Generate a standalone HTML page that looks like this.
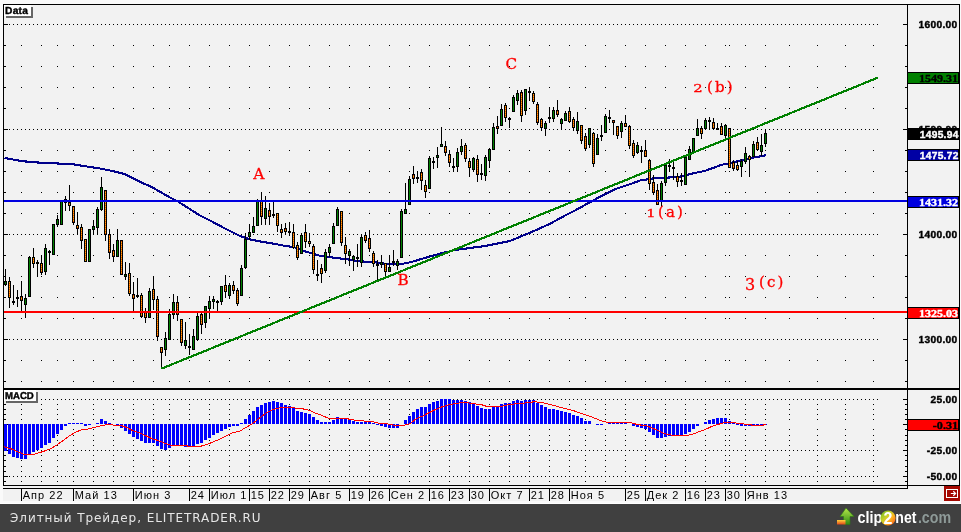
<!DOCTYPE html>
<html lang="ru"><head><meta charset="utf-8"><title>Chart</title>
<style>html,body{margin:0;padding:0;background:#fafafa;overflow:hidden}body{width:961px;height:532px;position:relative}</style></head>
<body>
<svg width="961" height="532" viewBox="0 0 961 532" style="position:absolute;left:0;top:0">
<rect x="0" y="0" width="961" height="532" fill="#fafafa"/>
<rect x="3" y="4" width="957" height="497" fill="#f2f2f2"/>
<g shape-rendering="crispEdges">
<path d="M5 24h1v1h-1zM9 24h1v1h-1zM13 24h1v1h-1zM17 24h1v1h-1zM21 24h1v1h-1zM25 24h1v1h-1zM29 24h1v1h-1zM33 24h1v1h-1zM37 24h1v1h-1zM41 24h1v1h-1zM45 24h1v1h-1zM49 24h1v1h-1zM53 24h1v1h-1zM57 24h1v1h-1zM61 24h1v1h-1zM65 24h1v1h-1zM69 24h1v1h-1zM73 24h1v1h-1zM77 24h1v1h-1zM81 24h1v1h-1zM85 24h1v1h-1zM89 24h1v1h-1zM93 24h1v1h-1zM97 24h1v1h-1zM101 24h1v1h-1zM105 24h1v1h-1zM109 24h1v1h-1zM113 24h1v1h-1zM117 24h1v1h-1zM121 24h1v1h-1zM125 24h1v1h-1zM129 24h1v1h-1zM133 24h1v1h-1zM137 24h1v1h-1zM141 24h1v1h-1zM145 24h1v1h-1zM149 24h1v1h-1zM153 24h1v1h-1zM157 24h1v1h-1zM161 24h1v1h-1zM165 24h1v1h-1zM169 24h1v1h-1zM173 24h1v1h-1zM177 24h1v1h-1zM181 24h1v1h-1zM185 24h1v1h-1zM189 24h1v1h-1zM193 24h1v1h-1zM197 24h1v1h-1zM201 24h1v1h-1zM205 24h1v1h-1zM209 24h1v1h-1zM213 24h1v1h-1zM217 24h1v1h-1zM221 24h1v1h-1zM225 24h1v1h-1zM229 24h1v1h-1zM233 24h1v1h-1zM237 24h1v1h-1zM241 24h1v1h-1zM245 24h1v1h-1zM249 24h1v1h-1zM253 24h1v1h-1zM257 24h1v1h-1zM261 24h1v1h-1zM265 24h1v1h-1zM269 24h1v1h-1zM273 24h1v1h-1zM277 24h1v1h-1zM281 24h1v1h-1zM285 24h1v1h-1zM289 24h1v1h-1zM293 24h1v1h-1zM297 24h1v1h-1zM301 24h1v1h-1zM305 24h1v1h-1zM309 24h1v1h-1zM313 24h1v1h-1zM317 24h1v1h-1zM321 24h1v1h-1zM325 24h1v1h-1zM329 24h1v1h-1zM333 24h1v1h-1zM337 24h1v1h-1zM341 24h1v1h-1zM345 24h1v1h-1zM349 24h1v1h-1zM353 24h1v1h-1zM357 24h1v1h-1zM361 24h1v1h-1zM365 24h1v1h-1zM369 24h1v1h-1zM373 24h1v1h-1zM377 24h1v1h-1zM381 24h1v1h-1zM385 24h1v1h-1zM389 24h1v1h-1zM393 24h1v1h-1zM397 24h1v1h-1zM401 24h1v1h-1zM405 24h1v1h-1zM409 24h1v1h-1zM413 24h1v1h-1zM417 24h1v1h-1zM421 24h1v1h-1zM425 24h1v1h-1zM429 24h1v1h-1zM433 24h1v1h-1zM437 24h1v1h-1zM441 24h1v1h-1zM445 24h1v1h-1zM449 24h1v1h-1zM453 24h1v1h-1zM457 24h1v1h-1zM461 24h1v1h-1zM465 24h1v1h-1zM469 24h1v1h-1zM473 24h1v1h-1zM477 24h1v1h-1zM481 24h1v1h-1zM485 24h1v1h-1zM489 24h1v1h-1zM493 24h1v1h-1zM497 24h1v1h-1zM501 24h1v1h-1zM505 24h1v1h-1zM509 24h1v1h-1zM513 24h1v1h-1zM517 24h1v1h-1zM521 24h1v1h-1zM525 24h1v1h-1zM529 24h1v1h-1zM533 24h1v1h-1zM537 24h1v1h-1zM541 24h1v1h-1zM545 24h1v1h-1zM549 24h1v1h-1zM553 24h1v1h-1zM557 24h1v1h-1zM561 24h1v1h-1zM565 24h1v1h-1zM569 24h1v1h-1zM573 24h1v1h-1zM577 24h1v1h-1zM581 24h1v1h-1zM585 24h1v1h-1zM589 24h1v1h-1zM593 24h1v1h-1zM597 24h1v1h-1zM601 24h1v1h-1zM605 24h1v1h-1zM609 24h1v1h-1zM613 24h1v1h-1zM617 24h1v1h-1zM621 24h1v1h-1zM625 24h1v1h-1zM629 24h1v1h-1zM633 24h1v1h-1zM637 24h1v1h-1zM641 24h1v1h-1zM645 24h1v1h-1zM649 24h1v1h-1zM653 24h1v1h-1zM657 24h1v1h-1zM661 24h1v1h-1zM665 24h1v1h-1zM669 24h1v1h-1zM673 24h1v1h-1zM677 24h1v1h-1zM681 24h1v1h-1zM685 24h1v1h-1zM689 24h1v1h-1zM693 24h1v1h-1zM697 24h1v1h-1zM701 24h1v1h-1zM705 24h1v1h-1zM709 24h1v1h-1zM713 24h1v1h-1zM717 24h1v1h-1zM721 24h1v1h-1zM725 24h1v1h-1zM729 24h1v1h-1zM733 24h1v1h-1zM737 24h1v1h-1zM741 24h1v1h-1zM745 24h1v1h-1zM749 24h1v1h-1zM753 24h1v1h-1zM757 24h1v1h-1zM761 24h1v1h-1zM765 24h1v1h-1zM769 24h1v1h-1zM773 24h1v1h-1zM777 24h1v1h-1zM781 24h1v1h-1zM785 24h1v1h-1zM789 24h1v1h-1zM793 24h1v1h-1zM797 24h1v1h-1zM801 24h1v1h-1zM805 24h1v1h-1zM809 24h1v1h-1zM813 24h1v1h-1zM817 24h1v1h-1zM821 24h1v1h-1zM825 24h1v1h-1zM829 24h1v1h-1zM833 24h1v1h-1zM837 24h1v1h-1zM841 24h1v1h-1zM845 24h1v1h-1zM849 24h1v1h-1zM853 24h1v1h-1zM857 24h1v1h-1zM861 24h1v1h-1zM865 24h1v1h-1zM869 24h1v1h-1zM873 24h1v1h-1zM877 24h1v1h-1zM21 45h1v1h-1zM41 45h1v1h-1zM57 45h1v1h-1zM73 45h1v1h-1zM93 45h1v1h-1zM113 45h1v1h-1zM133 45h1v1h-1zM153 45h1v1h-1zM169 45h1v1h-1zM189 45h1v1h-1zM209 45h1v1h-1zM229 45h1v1h-1zM249 45h1v1h-1zM269 45h1v1h-1zM289 45h1v1h-1zM309 45h1v1h-1zM329 45h1v1h-1zM349 45h1v1h-1zM369 45h1v1h-1zM389 45h1v1h-1zM409 45h1v1h-1zM429 45h1v1h-1zM449 45h1v1h-1zM469 45h1v1h-1zM489 45h1v1h-1zM509 45h1v1h-1zM529 45h1v1h-1zM549 45h1v1h-1zM569 45h1v1h-1zM585 45h1v1h-1zM605 45h1v1h-1zM625 45h1v1h-1zM645 45h1v1h-1zM665 45h1v1h-1zM685 45h1v1h-1zM705 45h1v1h-1zM725 45h1v1h-1zM729 45h1v1h-1zM745 45h1v1h-1zM765 45h1v1h-1zM789 45h1v1h-1zM817 45h1v1h-1zM845 45h1v1h-1zM873 45h1v1h-1zM21 66h1v1h-1zM41 66h1v1h-1zM57 66h1v1h-1zM73 66h1v1h-1zM93 66h1v1h-1zM113 66h1v1h-1zM133 66h1v1h-1zM153 66h1v1h-1zM169 66h1v1h-1zM189 66h1v1h-1zM209 66h1v1h-1zM229 66h1v1h-1zM249 66h1v1h-1zM269 66h1v1h-1zM289 66h1v1h-1zM309 66h1v1h-1zM329 66h1v1h-1zM349 66h1v1h-1zM369 66h1v1h-1zM389 66h1v1h-1zM409 66h1v1h-1zM429 66h1v1h-1zM449 66h1v1h-1zM469 66h1v1h-1zM489 66h1v1h-1zM509 66h1v1h-1zM529 66h1v1h-1zM549 66h1v1h-1zM569 66h1v1h-1zM585 66h1v1h-1zM605 66h1v1h-1zM625 66h1v1h-1zM645 66h1v1h-1zM665 66h1v1h-1zM685 66h1v1h-1zM705 66h1v1h-1zM725 66h1v1h-1zM729 66h1v1h-1zM745 66h1v1h-1zM765 66h1v1h-1zM789 66h1v1h-1zM817 66h1v1h-1zM845 66h1v1h-1zM873 66h1v1h-1zM21 87h1v1h-1zM41 87h1v1h-1zM57 87h1v1h-1zM73 87h1v1h-1zM93 87h1v1h-1zM113 87h1v1h-1zM133 87h1v1h-1zM153 87h1v1h-1zM169 87h1v1h-1zM189 87h1v1h-1zM209 87h1v1h-1zM229 87h1v1h-1zM249 87h1v1h-1zM269 87h1v1h-1zM289 87h1v1h-1zM309 87h1v1h-1zM329 87h1v1h-1zM349 87h1v1h-1zM369 87h1v1h-1zM389 87h1v1h-1zM409 87h1v1h-1zM429 87h1v1h-1zM449 87h1v1h-1zM469 87h1v1h-1zM489 87h1v1h-1zM509 87h1v1h-1zM529 87h1v1h-1zM549 87h1v1h-1zM569 87h1v1h-1zM585 87h1v1h-1zM605 87h1v1h-1zM625 87h1v1h-1zM645 87h1v1h-1zM665 87h1v1h-1zM685 87h1v1h-1zM705 87h1v1h-1zM725 87h1v1h-1zM729 87h1v1h-1zM745 87h1v1h-1zM765 87h1v1h-1zM789 87h1v1h-1zM817 87h1v1h-1zM845 87h1v1h-1zM873 87h1v1h-1zM21 108h1v1h-1zM41 108h1v1h-1zM57 108h1v1h-1zM73 108h1v1h-1zM93 108h1v1h-1zM113 108h1v1h-1zM133 108h1v1h-1zM153 108h1v1h-1zM169 108h1v1h-1zM189 108h1v1h-1zM209 108h1v1h-1zM229 108h1v1h-1zM249 108h1v1h-1zM269 108h1v1h-1zM289 108h1v1h-1zM309 108h1v1h-1zM329 108h1v1h-1zM349 108h1v1h-1zM369 108h1v1h-1zM389 108h1v1h-1zM409 108h1v1h-1zM429 108h1v1h-1zM449 108h1v1h-1zM469 108h1v1h-1zM489 108h1v1h-1zM509 108h1v1h-1zM529 108h1v1h-1zM549 108h1v1h-1zM569 108h1v1h-1zM585 108h1v1h-1zM605 108h1v1h-1zM625 108h1v1h-1zM645 108h1v1h-1zM665 108h1v1h-1zM685 108h1v1h-1zM705 108h1v1h-1zM725 108h1v1h-1zM729 108h1v1h-1zM745 108h1v1h-1zM765 108h1v1h-1zM789 108h1v1h-1zM817 108h1v1h-1zM845 108h1v1h-1zM873 108h1v1h-1zM5 129h1v1h-1zM9 129h1v1h-1zM13 129h1v1h-1zM17 129h1v1h-1zM21 129h1v1h-1zM25 129h1v1h-1zM29 129h1v1h-1zM33 129h1v1h-1zM37 129h1v1h-1zM41 129h1v1h-1zM45 129h1v1h-1zM49 129h1v1h-1zM53 129h1v1h-1zM57 129h1v1h-1zM61 129h1v1h-1zM65 129h1v1h-1zM69 129h1v1h-1zM73 129h1v1h-1zM77 129h1v1h-1zM81 129h1v1h-1zM85 129h1v1h-1zM89 129h1v1h-1zM93 129h1v1h-1zM97 129h1v1h-1zM101 129h1v1h-1zM105 129h1v1h-1zM109 129h1v1h-1zM113 129h1v1h-1zM117 129h1v1h-1zM121 129h1v1h-1zM125 129h1v1h-1zM129 129h1v1h-1zM133 129h1v1h-1zM137 129h1v1h-1zM141 129h1v1h-1zM145 129h1v1h-1zM149 129h1v1h-1zM153 129h1v1h-1zM157 129h1v1h-1zM161 129h1v1h-1zM165 129h1v1h-1zM169 129h1v1h-1zM173 129h1v1h-1zM177 129h1v1h-1zM181 129h1v1h-1zM185 129h1v1h-1zM189 129h1v1h-1zM193 129h1v1h-1zM197 129h1v1h-1zM201 129h1v1h-1zM205 129h1v1h-1zM209 129h1v1h-1zM213 129h1v1h-1zM217 129h1v1h-1zM221 129h1v1h-1zM225 129h1v1h-1zM229 129h1v1h-1zM233 129h1v1h-1zM237 129h1v1h-1zM241 129h1v1h-1zM245 129h1v1h-1zM249 129h1v1h-1zM253 129h1v1h-1zM257 129h1v1h-1zM261 129h1v1h-1zM265 129h1v1h-1zM269 129h1v1h-1zM273 129h1v1h-1zM277 129h1v1h-1zM281 129h1v1h-1zM285 129h1v1h-1zM289 129h1v1h-1zM293 129h1v1h-1zM297 129h1v1h-1zM301 129h1v1h-1zM305 129h1v1h-1zM309 129h1v1h-1zM313 129h1v1h-1zM317 129h1v1h-1zM321 129h1v1h-1zM325 129h1v1h-1zM329 129h1v1h-1zM333 129h1v1h-1zM337 129h1v1h-1zM341 129h1v1h-1zM345 129h1v1h-1zM349 129h1v1h-1zM353 129h1v1h-1zM357 129h1v1h-1zM361 129h1v1h-1zM365 129h1v1h-1zM369 129h1v1h-1zM373 129h1v1h-1zM377 129h1v1h-1zM381 129h1v1h-1zM385 129h1v1h-1zM389 129h1v1h-1zM393 129h1v1h-1zM397 129h1v1h-1zM401 129h1v1h-1zM405 129h1v1h-1zM409 129h1v1h-1zM413 129h1v1h-1zM417 129h1v1h-1zM421 129h1v1h-1zM425 129h1v1h-1zM429 129h1v1h-1zM433 129h1v1h-1zM437 129h1v1h-1zM441 129h1v1h-1zM445 129h1v1h-1zM449 129h1v1h-1zM453 129h1v1h-1zM457 129h1v1h-1zM461 129h1v1h-1zM465 129h1v1h-1zM469 129h1v1h-1zM473 129h1v1h-1zM477 129h1v1h-1zM481 129h1v1h-1zM485 129h1v1h-1zM489 129h1v1h-1zM493 129h1v1h-1zM497 129h1v1h-1zM501 129h1v1h-1zM505 129h1v1h-1zM509 129h1v1h-1zM513 129h1v1h-1zM517 129h1v1h-1zM521 129h1v1h-1zM525 129h1v1h-1zM529 129h1v1h-1zM533 129h1v1h-1zM537 129h1v1h-1zM541 129h1v1h-1zM545 129h1v1h-1zM549 129h1v1h-1zM553 129h1v1h-1zM557 129h1v1h-1zM561 129h1v1h-1zM565 129h1v1h-1zM569 129h1v1h-1zM573 129h1v1h-1zM577 129h1v1h-1zM581 129h1v1h-1zM585 129h1v1h-1zM589 129h1v1h-1zM593 129h1v1h-1zM597 129h1v1h-1zM601 129h1v1h-1zM605 129h1v1h-1zM609 129h1v1h-1zM613 129h1v1h-1zM617 129h1v1h-1zM621 129h1v1h-1zM625 129h1v1h-1zM629 129h1v1h-1zM633 129h1v1h-1zM637 129h1v1h-1zM641 129h1v1h-1zM645 129h1v1h-1zM649 129h1v1h-1zM653 129h1v1h-1zM657 129h1v1h-1zM661 129h1v1h-1zM665 129h1v1h-1zM669 129h1v1h-1zM673 129h1v1h-1zM677 129h1v1h-1zM681 129h1v1h-1zM685 129h1v1h-1zM689 129h1v1h-1zM693 129h1v1h-1zM697 129h1v1h-1zM701 129h1v1h-1zM705 129h1v1h-1zM709 129h1v1h-1zM713 129h1v1h-1zM717 129h1v1h-1zM721 129h1v1h-1zM725 129h1v1h-1zM729 129h1v1h-1zM733 129h1v1h-1zM737 129h1v1h-1zM741 129h1v1h-1zM745 129h1v1h-1zM749 129h1v1h-1zM753 129h1v1h-1zM757 129h1v1h-1zM761 129h1v1h-1zM765 129h1v1h-1zM769 129h1v1h-1zM773 129h1v1h-1zM777 129h1v1h-1zM781 129h1v1h-1zM785 129h1v1h-1zM789 129h1v1h-1zM793 129h1v1h-1zM797 129h1v1h-1zM801 129h1v1h-1zM805 129h1v1h-1zM809 129h1v1h-1zM813 129h1v1h-1zM817 129h1v1h-1zM821 129h1v1h-1zM825 129h1v1h-1zM829 129h1v1h-1zM833 129h1v1h-1zM837 129h1v1h-1zM841 129h1v1h-1zM845 129h1v1h-1zM849 129h1v1h-1zM853 129h1v1h-1zM857 129h1v1h-1zM861 129h1v1h-1zM865 129h1v1h-1zM869 129h1v1h-1zM873 129h1v1h-1zM877 129h1v1h-1zM21 150h1v1h-1zM41 150h1v1h-1zM57 150h1v1h-1zM73 150h1v1h-1zM93 150h1v1h-1zM113 150h1v1h-1zM133 150h1v1h-1zM153 150h1v1h-1zM169 150h1v1h-1zM189 150h1v1h-1zM209 150h1v1h-1zM229 150h1v1h-1zM249 150h1v1h-1zM269 150h1v1h-1zM289 150h1v1h-1zM309 150h1v1h-1zM329 150h1v1h-1zM349 150h1v1h-1zM369 150h1v1h-1zM389 150h1v1h-1zM409 150h1v1h-1zM429 150h1v1h-1zM449 150h1v1h-1zM469 150h1v1h-1zM489 150h1v1h-1zM509 150h1v1h-1zM529 150h1v1h-1zM549 150h1v1h-1zM569 150h1v1h-1zM585 150h1v1h-1zM605 150h1v1h-1zM625 150h1v1h-1zM645 150h1v1h-1zM665 150h1v1h-1zM685 150h1v1h-1zM705 150h1v1h-1zM725 150h1v1h-1zM729 150h1v1h-1zM745 150h1v1h-1zM765 150h1v1h-1zM789 150h1v1h-1zM817 150h1v1h-1zM845 150h1v1h-1zM873 150h1v1h-1zM21 171h1v1h-1zM41 171h1v1h-1zM57 171h1v1h-1zM73 171h1v1h-1zM93 171h1v1h-1zM113 171h1v1h-1zM133 171h1v1h-1zM153 171h1v1h-1zM169 171h1v1h-1zM189 171h1v1h-1zM209 171h1v1h-1zM229 171h1v1h-1zM249 171h1v1h-1zM269 171h1v1h-1zM289 171h1v1h-1zM309 171h1v1h-1zM329 171h1v1h-1zM349 171h1v1h-1zM369 171h1v1h-1zM389 171h1v1h-1zM409 171h1v1h-1zM429 171h1v1h-1zM449 171h1v1h-1zM469 171h1v1h-1zM489 171h1v1h-1zM509 171h1v1h-1zM529 171h1v1h-1zM549 171h1v1h-1zM569 171h1v1h-1zM585 171h1v1h-1zM605 171h1v1h-1zM625 171h1v1h-1zM645 171h1v1h-1zM665 171h1v1h-1zM685 171h1v1h-1zM705 171h1v1h-1zM725 171h1v1h-1zM729 171h1v1h-1zM745 171h1v1h-1zM765 171h1v1h-1zM789 171h1v1h-1zM817 171h1v1h-1zM845 171h1v1h-1zM873 171h1v1h-1zM21 192h1v1h-1zM41 192h1v1h-1zM57 192h1v1h-1zM73 192h1v1h-1zM93 192h1v1h-1zM113 192h1v1h-1zM133 192h1v1h-1zM153 192h1v1h-1zM169 192h1v1h-1zM189 192h1v1h-1zM209 192h1v1h-1zM229 192h1v1h-1zM249 192h1v1h-1zM269 192h1v1h-1zM289 192h1v1h-1zM309 192h1v1h-1zM329 192h1v1h-1zM349 192h1v1h-1zM369 192h1v1h-1zM389 192h1v1h-1zM409 192h1v1h-1zM429 192h1v1h-1zM449 192h1v1h-1zM469 192h1v1h-1zM489 192h1v1h-1zM509 192h1v1h-1zM529 192h1v1h-1zM549 192h1v1h-1zM569 192h1v1h-1zM585 192h1v1h-1zM605 192h1v1h-1zM625 192h1v1h-1zM645 192h1v1h-1zM665 192h1v1h-1zM685 192h1v1h-1zM705 192h1v1h-1zM725 192h1v1h-1zM729 192h1v1h-1zM745 192h1v1h-1zM765 192h1v1h-1zM789 192h1v1h-1zM817 192h1v1h-1zM845 192h1v1h-1zM873 192h1v1h-1zM21 213h1v1h-1zM41 213h1v1h-1zM57 213h1v1h-1zM73 213h1v1h-1zM93 213h1v1h-1zM113 213h1v1h-1zM133 213h1v1h-1zM153 213h1v1h-1zM169 213h1v1h-1zM189 213h1v1h-1zM209 213h1v1h-1zM229 213h1v1h-1zM249 213h1v1h-1zM269 213h1v1h-1zM289 213h1v1h-1zM309 213h1v1h-1zM329 213h1v1h-1zM349 213h1v1h-1zM369 213h1v1h-1zM389 213h1v1h-1zM409 213h1v1h-1zM429 213h1v1h-1zM449 213h1v1h-1zM469 213h1v1h-1zM489 213h1v1h-1zM509 213h1v1h-1zM529 213h1v1h-1zM549 213h1v1h-1zM569 213h1v1h-1zM585 213h1v1h-1zM605 213h1v1h-1zM625 213h1v1h-1zM645 213h1v1h-1zM665 213h1v1h-1zM685 213h1v1h-1zM705 213h1v1h-1zM725 213h1v1h-1zM729 213h1v1h-1zM745 213h1v1h-1zM765 213h1v1h-1zM789 213h1v1h-1zM817 213h1v1h-1zM845 213h1v1h-1zM873 213h1v1h-1zM5 234h1v1h-1zM9 234h1v1h-1zM13 234h1v1h-1zM17 234h1v1h-1zM21 234h1v1h-1zM25 234h1v1h-1zM29 234h1v1h-1zM33 234h1v1h-1zM37 234h1v1h-1zM41 234h1v1h-1zM45 234h1v1h-1zM49 234h1v1h-1zM53 234h1v1h-1zM57 234h1v1h-1zM61 234h1v1h-1zM65 234h1v1h-1zM69 234h1v1h-1zM73 234h1v1h-1zM77 234h1v1h-1zM81 234h1v1h-1zM85 234h1v1h-1zM89 234h1v1h-1zM93 234h1v1h-1zM97 234h1v1h-1zM101 234h1v1h-1zM105 234h1v1h-1zM109 234h1v1h-1zM113 234h1v1h-1zM117 234h1v1h-1zM121 234h1v1h-1zM125 234h1v1h-1zM129 234h1v1h-1zM133 234h1v1h-1zM137 234h1v1h-1zM141 234h1v1h-1zM145 234h1v1h-1zM149 234h1v1h-1zM153 234h1v1h-1zM157 234h1v1h-1zM161 234h1v1h-1zM165 234h1v1h-1zM169 234h1v1h-1zM173 234h1v1h-1zM177 234h1v1h-1zM181 234h1v1h-1zM185 234h1v1h-1zM189 234h1v1h-1zM193 234h1v1h-1zM197 234h1v1h-1zM201 234h1v1h-1zM205 234h1v1h-1zM209 234h1v1h-1zM213 234h1v1h-1zM217 234h1v1h-1zM221 234h1v1h-1zM225 234h1v1h-1zM229 234h1v1h-1zM233 234h1v1h-1zM237 234h1v1h-1zM241 234h1v1h-1zM245 234h1v1h-1zM249 234h1v1h-1zM253 234h1v1h-1zM257 234h1v1h-1zM261 234h1v1h-1zM265 234h1v1h-1zM269 234h1v1h-1zM273 234h1v1h-1zM277 234h1v1h-1zM281 234h1v1h-1zM285 234h1v1h-1zM289 234h1v1h-1zM293 234h1v1h-1zM297 234h1v1h-1zM301 234h1v1h-1zM305 234h1v1h-1zM309 234h1v1h-1zM313 234h1v1h-1zM317 234h1v1h-1zM321 234h1v1h-1zM325 234h1v1h-1zM329 234h1v1h-1zM333 234h1v1h-1zM337 234h1v1h-1zM341 234h1v1h-1zM345 234h1v1h-1zM349 234h1v1h-1zM353 234h1v1h-1zM357 234h1v1h-1zM361 234h1v1h-1zM365 234h1v1h-1zM369 234h1v1h-1zM373 234h1v1h-1zM377 234h1v1h-1zM381 234h1v1h-1zM385 234h1v1h-1zM389 234h1v1h-1zM393 234h1v1h-1zM397 234h1v1h-1zM401 234h1v1h-1zM405 234h1v1h-1zM409 234h1v1h-1zM413 234h1v1h-1zM417 234h1v1h-1zM421 234h1v1h-1zM425 234h1v1h-1zM429 234h1v1h-1zM433 234h1v1h-1zM437 234h1v1h-1zM441 234h1v1h-1zM445 234h1v1h-1zM449 234h1v1h-1zM453 234h1v1h-1zM457 234h1v1h-1zM461 234h1v1h-1zM465 234h1v1h-1zM469 234h1v1h-1zM473 234h1v1h-1zM477 234h1v1h-1zM481 234h1v1h-1zM485 234h1v1h-1zM489 234h1v1h-1zM493 234h1v1h-1zM497 234h1v1h-1zM501 234h1v1h-1zM505 234h1v1h-1zM509 234h1v1h-1zM513 234h1v1h-1zM517 234h1v1h-1zM521 234h1v1h-1zM525 234h1v1h-1zM529 234h1v1h-1zM533 234h1v1h-1zM537 234h1v1h-1zM541 234h1v1h-1zM545 234h1v1h-1zM549 234h1v1h-1zM553 234h1v1h-1zM557 234h1v1h-1zM561 234h1v1h-1zM565 234h1v1h-1zM569 234h1v1h-1zM573 234h1v1h-1zM577 234h1v1h-1zM581 234h1v1h-1zM585 234h1v1h-1zM589 234h1v1h-1zM593 234h1v1h-1zM597 234h1v1h-1zM601 234h1v1h-1zM605 234h1v1h-1zM609 234h1v1h-1zM613 234h1v1h-1zM617 234h1v1h-1zM621 234h1v1h-1zM625 234h1v1h-1zM629 234h1v1h-1zM633 234h1v1h-1zM637 234h1v1h-1zM641 234h1v1h-1zM645 234h1v1h-1zM649 234h1v1h-1zM653 234h1v1h-1zM657 234h1v1h-1zM661 234h1v1h-1zM665 234h1v1h-1zM669 234h1v1h-1zM673 234h1v1h-1zM677 234h1v1h-1zM681 234h1v1h-1zM685 234h1v1h-1zM689 234h1v1h-1zM693 234h1v1h-1zM697 234h1v1h-1zM701 234h1v1h-1zM705 234h1v1h-1zM709 234h1v1h-1zM713 234h1v1h-1zM717 234h1v1h-1zM721 234h1v1h-1zM725 234h1v1h-1zM729 234h1v1h-1zM733 234h1v1h-1zM737 234h1v1h-1zM741 234h1v1h-1zM745 234h1v1h-1zM749 234h1v1h-1zM753 234h1v1h-1zM757 234h1v1h-1zM761 234h1v1h-1zM765 234h1v1h-1zM769 234h1v1h-1zM773 234h1v1h-1zM777 234h1v1h-1zM781 234h1v1h-1zM785 234h1v1h-1zM789 234h1v1h-1zM793 234h1v1h-1zM797 234h1v1h-1zM801 234h1v1h-1zM805 234h1v1h-1zM809 234h1v1h-1zM813 234h1v1h-1zM817 234h1v1h-1zM821 234h1v1h-1zM825 234h1v1h-1zM829 234h1v1h-1zM833 234h1v1h-1zM837 234h1v1h-1zM841 234h1v1h-1zM845 234h1v1h-1zM849 234h1v1h-1zM853 234h1v1h-1zM857 234h1v1h-1zM861 234h1v1h-1zM865 234h1v1h-1zM869 234h1v1h-1zM873 234h1v1h-1zM877 234h1v1h-1zM21 255h1v1h-1zM41 255h1v1h-1zM57 255h1v1h-1zM73 255h1v1h-1zM93 255h1v1h-1zM113 255h1v1h-1zM133 255h1v1h-1zM153 255h1v1h-1zM169 255h1v1h-1zM189 255h1v1h-1zM209 255h1v1h-1zM229 255h1v1h-1zM249 255h1v1h-1zM269 255h1v1h-1zM289 255h1v1h-1zM309 255h1v1h-1zM329 255h1v1h-1zM349 255h1v1h-1zM369 255h1v1h-1zM389 255h1v1h-1zM409 255h1v1h-1zM429 255h1v1h-1zM449 255h1v1h-1zM469 255h1v1h-1zM489 255h1v1h-1zM509 255h1v1h-1zM529 255h1v1h-1zM549 255h1v1h-1zM569 255h1v1h-1zM585 255h1v1h-1zM605 255h1v1h-1zM625 255h1v1h-1zM645 255h1v1h-1zM665 255h1v1h-1zM685 255h1v1h-1zM705 255h1v1h-1zM725 255h1v1h-1zM729 255h1v1h-1zM745 255h1v1h-1zM765 255h1v1h-1zM789 255h1v1h-1zM817 255h1v1h-1zM845 255h1v1h-1zM873 255h1v1h-1zM21 276h1v1h-1zM41 276h1v1h-1zM57 276h1v1h-1zM73 276h1v1h-1zM93 276h1v1h-1zM113 276h1v1h-1zM133 276h1v1h-1zM153 276h1v1h-1zM169 276h1v1h-1zM189 276h1v1h-1zM209 276h1v1h-1zM229 276h1v1h-1zM249 276h1v1h-1zM269 276h1v1h-1zM289 276h1v1h-1zM309 276h1v1h-1zM329 276h1v1h-1zM349 276h1v1h-1zM369 276h1v1h-1zM389 276h1v1h-1zM409 276h1v1h-1zM429 276h1v1h-1zM449 276h1v1h-1zM469 276h1v1h-1zM489 276h1v1h-1zM509 276h1v1h-1zM529 276h1v1h-1zM549 276h1v1h-1zM569 276h1v1h-1zM585 276h1v1h-1zM605 276h1v1h-1zM625 276h1v1h-1zM645 276h1v1h-1zM665 276h1v1h-1zM685 276h1v1h-1zM705 276h1v1h-1zM725 276h1v1h-1zM729 276h1v1h-1zM745 276h1v1h-1zM765 276h1v1h-1zM789 276h1v1h-1zM817 276h1v1h-1zM845 276h1v1h-1zM873 276h1v1h-1zM21 297h1v1h-1zM41 297h1v1h-1zM57 297h1v1h-1zM73 297h1v1h-1zM93 297h1v1h-1zM113 297h1v1h-1zM133 297h1v1h-1zM153 297h1v1h-1zM169 297h1v1h-1zM189 297h1v1h-1zM209 297h1v1h-1zM229 297h1v1h-1zM249 297h1v1h-1zM269 297h1v1h-1zM289 297h1v1h-1zM309 297h1v1h-1zM329 297h1v1h-1zM349 297h1v1h-1zM369 297h1v1h-1zM389 297h1v1h-1zM409 297h1v1h-1zM429 297h1v1h-1zM449 297h1v1h-1zM469 297h1v1h-1zM489 297h1v1h-1zM509 297h1v1h-1zM529 297h1v1h-1zM549 297h1v1h-1zM569 297h1v1h-1zM585 297h1v1h-1zM605 297h1v1h-1zM625 297h1v1h-1zM645 297h1v1h-1zM665 297h1v1h-1zM685 297h1v1h-1zM705 297h1v1h-1zM725 297h1v1h-1zM729 297h1v1h-1zM745 297h1v1h-1zM765 297h1v1h-1zM789 297h1v1h-1zM817 297h1v1h-1zM845 297h1v1h-1zM873 297h1v1h-1zM21 318h1v1h-1zM41 318h1v1h-1zM57 318h1v1h-1zM73 318h1v1h-1zM93 318h1v1h-1zM113 318h1v1h-1zM133 318h1v1h-1zM153 318h1v1h-1zM169 318h1v1h-1zM189 318h1v1h-1zM209 318h1v1h-1zM229 318h1v1h-1zM249 318h1v1h-1zM269 318h1v1h-1zM289 318h1v1h-1zM309 318h1v1h-1zM329 318h1v1h-1zM349 318h1v1h-1zM369 318h1v1h-1zM389 318h1v1h-1zM409 318h1v1h-1zM429 318h1v1h-1zM449 318h1v1h-1zM469 318h1v1h-1zM489 318h1v1h-1zM509 318h1v1h-1zM529 318h1v1h-1zM549 318h1v1h-1zM569 318h1v1h-1zM585 318h1v1h-1zM605 318h1v1h-1zM625 318h1v1h-1zM645 318h1v1h-1zM665 318h1v1h-1zM685 318h1v1h-1zM705 318h1v1h-1zM725 318h1v1h-1zM729 318h1v1h-1zM745 318h1v1h-1zM765 318h1v1h-1zM789 318h1v1h-1zM817 318h1v1h-1zM845 318h1v1h-1zM873 318h1v1h-1zM5 339h1v1h-1zM9 339h1v1h-1zM13 339h1v1h-1zM17 339h1v1h-1zM21 339h1v1h-1zM25 339h1v1h-1zM29 339h1v1h-1zM33 339h1v1h-1zM37 339h1v1h-1zM41 339h1v1h-1zM45 339h1v1h-1zM49 339h1v1h-1zM53 339h1v1h-1zM57 339h1v1h-1zM61 339h1v1h-1zM65 339h1v1h-1zM69 339h1v1h-1zM73 339h1v1h-1zM77 339h1v1h-1zM81 339h1v1h-1zM85 339h1v1h-1zM89 339h1v1h-1zM93 339h1v1h-1zM97 339h1v1h-1zM101 339h1v1h-1zM105 339h1v1h-1zM109 339h1v1h-1zM113 339h1v1h-1zM117 339h1v1h-1zM121 339h1v1h-1zM125 339h1v1h-1zM129 339h1v1h-1zM133 339h1v1h-1zM137 339h1v1h-1zM141 339h1v1h-1zM145 339h1v1h-1zM149 339h1v1h-1zM153 339h1v1h-1zM157 339h1v1h-1zM161 339h1v1h-1zM165 339h1v1h-1zM169 339h1v1h-1zM173 339h1v1h-1zM177 339h1v1h-1zM181 339h1v1h-1zM185 339h1v1h-1zM189 339h1v1h-1zM193 339h1v1h-1zM197 339h1v1h-1zM201 339h1v1h-1zM205 339h1v1h-1zM209 339h1v1h-1zM213 339h1v1h-1zM217 339h1v1h-1zM221 339h1v1h-1zM225 339h1v1h-1zM229 339h1v1h-1zM233 339h1v1h-1zM237 339h1v1h-1zM241 339h1v1h-1zM245 339h1v1h-1zM249 339h1v1h-1zM253 339h1v1h-1zM257 339h1v1h-1zM261 339h1v1h-1zM265 339h1v1h-1zM269 339h1v1h-1zM273 339h1v1h-1zM277 339h1v1h-1zM281 339h1v1h-1zM285 339h1v1h-1zM289 339h1v1h-1zM293 339h1v1h-1zM297 339h1v1h-1zM301 339h1v1h-1zM305 339h1v1h-1zM309 339h1v1h-1zM313 339h1v1h-1zM317 339h1v1h-1zM321 339h1v1h-1zM325 339h1v1h-1zM329 339h1v1h-1zM333 339h1v1h-1zM337 339h1v1h-1zM341 339h1v1h-1zM345 339h1v1h-1zM349 339h1v1h-1zM353 339h1v1h-1zM357 339h1v1h-1zM361 339h1v1h-1zM365 339h1v1h-1zM369 339h1v1h-1zM373 339h1v1h-1zM377 339h1v1h-1zM381 339h1v1h-1zM385 339h1v1h-1zM389 339h1v1h-1zM393 339h1v1h-1zM397 339h1v1h-1zM401 339h1v1h-1zM405 339h1v1h-1zM409 339h1v1h-1zM413 339h1v1h-1zM417 339h1v1h-1zM421 339h1v1h-1zM425 339h1v1h-1zM429 339h1v1h-1zM433 339h1v1h-1zM437 339h1v1h-1zM441 339h1v1h-1zM445 339h1v1h-1zM449 339h1v1h-1zM453 339h1v1h-1zM457 339h1v1h-1zM461 339h1v1h-1zM465 339h1v1h-1zM469 339h1v1h-1zM473 339h1v1h-1zM477 339h1v1h-1zM481 339h1v1h-1zM485 339h1v1h-1zM489 339h1v1h-1zM493 339h1v1h-1zM497 339h1v1h-1zM501 339h1v1h-1zM505 339h1v1h-1zM509 339h1v1h-1zM513 339h1v1h-1zM517 339h1v1h-1zM521 339h1v1h-1zM525 339h1v1h-1zM529 339h1v1h-1zM533 339h1v1h-1zM537 339h1v1h-1zM541 339h1v1h-1zM545 339h1v1h-1zM549 339h1v1h-1zM553 339h1v1h-1zM557 339h1v1h-1zM561 339h1v1h-1zM565 339h1v1h-1zM569 339h1v1h-1zM573 339h1v1h-1zM577 339h1v1h-1zM581 339h1v1h-1zM585 339h1v1h-1zM589 339h1v1h-1zM593 339h1v1h-1zM597 339h1v1h-1zM601 339h1v1h-1zM605 339h1v1h-1zM609 339h1v1h-1zM613 339h1v1h-1zM617 339h1v1h-1zM621 339h1v1h-1zM625 339h1v1h-1zM629 339h1v1h-1zM633 339h1v1h-1zM637 339h1v1h-1zM641 339h1v1h-1zM645 339h1v1h-1zM649 339h1v1h-1zM653 339h1v1h-1zM657 339h1v1h-1zM661 339h1v1h-1zM665 339h1v1h-1zM669 339h1v1h-1zM673 339h1v1h-1zM677 339h1v1h-1zM681 339h1v1h-1zM685 339h1v1h-1zM689 339h1v1h-1zM693 339h1v1h-1zM697 339h1v1h-1zM701 339h1v1h-1zM705 339h1v1h-1zM709 339h1v1h-1zM713 339h1v1h-1zM717 339h1v1h-1zM721 339h1v1h-1zM725 339h1v1h-1zM729 339h1v1h-1zM733 339h1v1h-1zM737 339h1v1h-1zM741 339h1v1h-1zM745 339h1v1h-1zM749 339h1v1h-1zM753 339h1v1h-1zM757 339h1v1h-1zM761 339h1v1h-1zM765 339h1v1h-1zM769 339h1v1h-1zM773 339h1v1h-1zM777 339h1v1h-1zM781 339h1v1h-1zM785 339h1v1h-1zM789 339h1v1h-1zM793 339h1v1h-1zM797 339h1v1h-1zM801 339h1v1h-1zM805 339h1v1h-1zM809 339h1v1h-1zM813 339h1v1h-1zM817 339h1v1h-1zM821 339h1v1h-1zM825 339h1v1h-1zM829 339h1v1h-1zM833 339h1v1h-1zM837 339h1v1h-1zM841 339h1v1h-1zM845 339h1v1h-1zM849 339h1v1h-1zM853 339h1v1h-1zM857 339h1v1h-1zM861 339h1v1h-1zM865 339h1v1h-1zM869 339h1v1h-1zM873 339h1v1h-1zM877 339h1v1h-1zM21 360h1v1h-1zM41 360h1v1h-1zM57 360h1v1h-1zM73 360h1v1h-1zM93 360h1v1h-1zM113 360h1v1h-1zM133 360h1v1h-1zM153 360h1v1h-1zM169 360h1v1h-1zM189 360h1v1h-1zM209 360h1v1h-1zM229 360h1v1h-1zM249 360h1v1h-1zM269 360h1v1h-1zM289 360h1v1h-1zM309 360h1v1h-1zM329 360h1v1h-1zM349 360h1v1h-1zM369 360h1v1h-1zM389 360h1v1h-1zM409 360h1v1h-1zM429 360h1v1h-1zM449 360h1v1h-1zM469 360h1v1h-1zM489 360h1v1h-1zM509 360h1v1h-1zM529 360h1v1h-1zM549 360h1v1h-1zM569 360h1v1h-1zM585 360h1v1h-1zM605 360h1v1h-1zM625 360h1v1h-1zM645 360h1v1h-1zM665 360h1v1h-1zM685 360h1v1h-1zM705 360h1v1h-1zM725 360h1v1h-1zM729 360h1v1h-1zM745 360h1v1h-1zM765 360h1v1h-1zM789 360h1v1h-1zM817 360h1v1h-1zM845 360h1v1h-1zM873 360h1v1h-1zM21 381h1v1h-1zM41 381h1v1h-1zM57 381h1v1h-1zM73 381h1v1h-1zM93 381h1v1h-1zM113 381h1v1h-1zM133 381h1v1h-1zM153 381h1v1h-1zM169 381h1v1h-1zM189 381h1v1h-1zM209 381h1v1h-1zM229 381h1v1h-1zM249 381h1v1h-1zM269 381h1v1h-1zM289 381h1v1h-1zM309 381h1v1h-1zM329 381h1v1h-1zM349 381h1v1h-1zM369 381h1v1h-1zM389 381h1v1h-1zM409 381h1v1h-1zM429 381h1v1h-1zM449 381h1v1h-1zM469 381h1v1h-1zM489 381h1v1h-1zM509 381h1v1h-1zM529 381h1v1h-1zM549 381h1v1h-1zM569 381h1v1h-1zM585 381h1v1h-1zM605 381h1v1h-1zM625 381h1v1h-1zM645 381h1v1h-1zM665 381h1v1h-1zM685 381h1v1h-1zM705 381h1v1h-1zM725 381h1v1h-1zM729 381h1v1h-1zM745 381h1v1h-1zM765 381h1v1h-1zM789 381h1v1h-1zM817 381h1v1h-1zM845 381h1v1h-1zM873 381h1v1h-1zM21 481h1v1h-1zM41 481h1v1h-1zM57 481h1v1h-1zM73 481h1v1h-1zM93 481h1v1h-1zM113 481h1v1h-1zM133 481h1v1h-1zM153 481h1v1h-1zM169 481h1v1h-1zM189 481h1v1h-1zM209 481h1v1h-1zM229 481h1v1h-1zM249 481h1v1h-1zM269 481h1v1h-1zM289 481h1v1h-1zM309 481h1v1h-1zM329 481h1v1h-1zM349 481h1v1h-1zM369 481h1v1h-1zM389 481h1v1h-1zM409 481h1v1h-1zM429 481h1v1h-1zM449 481h1v1h-1zM469 481h1v1h-1zM489 481h1v1h-1zM509 481h1v1h-1zM529 481h1v1h-1zM549 481h1v1h-1zM569 481h1v1h-1zM585 481h1v1h-1zM605 481h1v1h-1zM625 481h1v1h-1zM645 481h1v1h-1zM665 481h1v1h-1zM685 481h1v1h-1zM705 481h1v1h-1zM725 481h1v1h-1zM729 481h1v1h-1zM745 481h1v1h-1zM765 481h1v1h-1zM789 481h1v1h-1zM817 481h1v1h-1zM845 481h1v1h-1zM873 481h1v1h-1zM5 476h1v1h-1zM9 476h1v1h-1zM13 476h1v1h-1zM17 476h1v1h-1zM21 476h1v1h-1zM25 476h1v1h-1zM29 476h1v1h-1zM33 476h1v1h-1zM37 476h1v1h-1zM41 476h1v1h-1zM45 476h1v1h-1zM49 476h1v1h-1zM53 476h1v1h-1zM57 476h1v1h-1zM61 476h1v1h-1zM65 476h1v1h-1zM69 476h1v1h-1zM73 476h1v1h-1zM77 476h1v1h-1zM81 476h1v1h-1zM85 476h1v1h-1zM89 476h1v1h-1zM93 476h1v1h-1zM97 476h1v1h-1zM101 476h1v1h-1zM105 476h1v1h-1zM109 476h1v1h-1zM113 476h1v1h-1zM117 476h1v1h-1zM121 476h1v1h-1zM125 476h1v1h-1zM129 476h1v1h-1zM133 476h1v1h-1zM137 476h1v1h-1zM141 476h1v1h-1zM145 476h1v1h-1zM149 476h1v1h-1zM153 476h1v1h-1zM157 476h1v1h-1zM161 476h1v1h-1zM165 476h1v1h-1zM169 476h1v1h-1zM173 476h1v1h-1zM177 476h1v1h-1zM181 476h1v1h-1zM185 476h1v1h-1zM189 476h1v1h-1zM193 476h1v1h-1zM197 476h1v1h-1zM201 476h1v1h-1zM205 476h1v1h-1zM209 476h1v1h-1zM213 476h1v1h-1zM217 476h1v1h-1zM221 476h1v1h-1zM225 476h1v1h-1zM229 476h1v1h-1zM233 476h1v1h-1zM237 476h1v1h-1zM241 476h1v1h-1zM245 476h1v1h-1zM249 476h1v1h-1zM253 476h1v1h-1zM257 476h1v1h-1zM261 476h1v1h-1zM265 476h1v1h-1zM269 476h1v1h-1zM273 476h1v1h-1zM277 476h1v1h-1zM281 476h1v1h-1zM285 476h1v1h-1zM289 476h1v1h-1zM293 476h1v1h-1zM297 476h1v1h-1zM301 476h1v1h-1zM305 476h1v1h-1zM309 476h1v1h-1zM313 476h1v1h-1zM317 476h1v1h-1zM321 476h1v1h-1zM325 476h1v1h-1zM329 476h1v1h-1zM333 476h1v1h-1zM337 476h1v1h-1zM341 476h1v1h-1zM345 476h1v1h-1zM349 476h1v1h-1zM353 476h1v1h-1zM357 476h1v1h-1zM361 476h1v1h-1zM365 476h1v1h-1zM369 476h1v1h-1zM373 476h1v1h-1zM377 476h1v1h-1zM381 476h1v1h-1zM385 476h1v1h-1zM389 476h1v1h-1zM393 476h1v1h-1zM397 476h1v1h-1zM401 476h1v1h-1zM405 476h1v1h-1zM409 476h1v1h-1zM413 476h1v1h-1zM417 476h1v1h-1zM421 476h1v1h-1zM425 476h1v1h-1zM429 476h1v1h-1zM433 476h1v1h-1zM437 476h1v1h-1zM441 476h1v1h-1zM445 476h1v1h-1zM449 476h1v1h-1zM453 476h1v1h-1zM457 476h1v1h-1zM461 476h1v1h-1zM465 476h1v1h-1zM469 476h1v1h-1zM473 476h1v1h-1zM477 476h1v1h-1zM481 476h1v1h-1zM485 476h1v1h-1zM489 476h1v1h-1zM493 476h1v1h-1zM497 476h1v1h-1zM501 476h1v1h-1zM505 476h1v1h-1zM509 476h1v1h-1zM513 476h1v1h-1zM517 476h1v1h-1zM521 476h1v1h-1zM525 476h1v1h-1zM529 476h1v1h-1zM533 476h1v1h-1zM537 476h1v1h-1zM541 476h1v1h-1zM545 476h1v1h-1zM549 476h1v1h-1zM553 476h1v1h-1zM557 476h1v1h-1zM561 476h1v1h-1zM565 476h1v1h-1zM569 476h1v1h-1zM573 476h1v1h-1zM577 476h1v1h-1zM581 476h1v1h-1zM585 476h1v1h-1zM589 476h1v1h-1zM593 476h1v1h-1zM597 476h1v1h-1zM601 476h1v1h-1zM605 476h1v1h-1zM609 476h1v1h-1zM613 476h1v1h-1zM617 476h1v1h-1zM621 476h1v1h-1zM625 476h1v1h-1zM629 476h1v1h-1zM633 476h1v1h-1zM637 476h1v1h-1zM641 476h1v1h-1zM645 476h1v1h-1zM649 476h1v1h-1zM653 476h1v1h-1zM657 476h1v1h-1zM661 476h1v1h-1zM665 476h1v1h-1zM669 476h1v1h-1zM673 476h1v1h-1zM677 476h1v1h-1zM681 476h1v1h-1zM685 476h1v1h-1zM689 476h1v1h-1zM693 476h1v1h-1zM697 476h1v1h-1zM701 476h1v1h-1zM705 476h1v1h-1zM709 476h1v1h-1zM713 476h1v1h-1zM717 476h1v1h-1zM721 476h1v1h-1zM725 476h1v1h-1zM729 476h1v1h-1zM733 476h1v1h-1zM737 476h1v1h-1zM741 476h1v1h-1zM745 476h1v1h-1zM749 476h1v1h-1zM753 476h1v1h-1zM757 476h1v1h-1zM761 476h1v1h-1zM765 476h1v1h-1zM769 476h1v1h-1zM773 476h1v1h-1zM777 476h1v1h-1zM781 476h1v1h-1zM785 476h1v1h-1zM789 476h1v1h-1zM793 476h1v1h-1zM797 476h1v1h-1zM801 476h1v1h-1zM805 476h1v1h-1zM809 476h1v1h-1zM813 476h1v1h-1zM817 476h1v1h-1zM821 476h1v1h-1zM825 476h1v1h-1zM829 476h1v1h-1zM833 476h1v1h-1zM837 476h1v1h-1zM841 476h1v1h-1zM845 476h1v1h-1zM849 476h1v1h-1zM853 476h1v1h-1zM857 476h1v1h-1zM861 476h1v1h-1zM865 476h1v1h-1zM869 476h1v1h-1zM873 476h1v1h-1zM877 476h1v1h-1zM21 471h1v1h-1zM41 471h1v1h-1zM57 471h1v1h-1zM73 471h1v1h-1zM93 471h1v1h-1zM113 471h1v1h-1zM133 471h1v1h-1zM153 471h1v1h-1zM169 471h1v1h-1zM189 471h1v1h-1zM209 471h1v1h-1zM229 471h1v1h-1zM249 471h1v1h-1zM269 471h1v1h-1zM289 471h1v1h-1zM309 471h1v1h-1zM329 471h1v1h-1zM349 471h1v1h-1zM369 471h1v1h-1zM389 471h1v1h-1zM409 471h1v1h-1zM429 471h1v1h-1zM449 471h1v1h-1zM469 471h1v1h-1zM489 471h1v1h-1zM509 471h1v1h-1zM529 471h1v1h-1zM549 471h1v1h-1zM569 471h1v1h-1zM585 471h1v1h-1zM605 471h1v1h-1zM625 471h1v1h-1zM645 471h1v1h-1zM665 471h1v1h-1zM685 471h1v1h-1zM705 471h1v1h-1zM725 471h1v1h-1zM729 471h1v1h-1zM745 471h1v1h-1zM765 471h1v1h-1zM789 471h1v1h-1zM817 471h1v1h-1zM845 471h1v1h-1zM873 471h1v1h-1zM21 466h1v1h-1zM41 466h1v1h-1zM57 466h1v1h-1zM73 466h1v1h-1zM93 466h1v1h-1zM113 466h1v1h-1zM133 466h1v1h-1zM153 466h1v1h-1zM169 466h1v1h-1zM189 466h1v1h-1zM209 466h1v1h-1zM229 466h1v1h-1zM249 466h1v1h-1zM269 466h1v1h-1zM289 466h1v1h-1zM309 466h1v1h-1zM329 466h1v1h-1zM349 466h1v1h-1zM369 466h1v1h-1zM389 466h1v1h-1zM409 466h1v1h-1zM429 466h1v1h-1zM449 466h1v1h-1zM469 466h1v1h-1zM489 466h1v1h-1zM509 466h1v1h-1zM529 466h1v1h-1zM549 466h1v1h-1zM569 466h1v1h-1zM585 466h1v1h-1zM605 466h1v1h-1zM625 466h1v1h-1zM645 466h1v1h-1zM665 466h1v1h-1zM685 466h1v1h-1zM705 466h1v1h-1zM725 466h1v1h-1zM729 466h1v1h-1zM745 466h1v1h-1zM765 466h1v1h-1zM789 466h1v1h-1zM817 466h1v1h-1zM845 466h1v1h-1zM873 466h1v1h-1zM21 460h1v1h-1zM41 460h1v1h-1zM57 460h1v1h-1zM73 460h1v1h-1zM93 460h1v1h-1zM113 460h1v1h-1zM133 460h1v1h-1zM153 460h1v1h-1zM169 460h1v1h-1zM189 460h1v1h-1zM209 460h1v1h-1zM229 460h1v1h-1zM249 460h1v1h-1zM269 460h1v1h-1zM289 460h1v1h-1zM309 460h1v1h-1zM329 460h1v1h-1zM349 460h1v1h-1zM369 460h1v1h-1zM389 460h1v1h-1zM409 460h1v1h-1zM429 460h1v1h-1zM449 460h1v1h-1zM469 460h1v1h-1zM489 460h1v1h-1zM509 460h1v1h-1zM529 460h1v1h-1zM549 460h1v1h-1zM569 460h1v1h-1zM585 460h1v1h-1zM605 460h1v1h-1zM625 460h1v1h-1zM645 460h1v1h-1zM665 460h1v1h-1zM685 460h1v1h-1zM705 460h1v1h-1zM725 460h1v1h-1zM729 460h1v1h-1zM745 460h1v1h-1zM765 460h1v1h-1zM789 460h1v1h-1zM817 460h1v1h-1zM845 460h1v1h-1zM873 460h1v1h-1zM21 455h1v1h-1zM41 455h1v1h-1zM57 455h1v1h-1zM73 455h1v1h-1zM93 455h1v1h-1zM113 455h1v1h-1zM133 455h1v1h-1zM153 455h1v1h-1zM169 455h1v1h-1zM189 455h1v1h-1zM209 455h1v1h-1zM229 455h1v1h-1zM249 455h1v1h-1zM269 455h1v1h-1zM289 455h1v1h-1zM309 455h1v1h-1zM329 455h1v1h-1zM349 455h1v1h-1zM369 455h1v1h-1zM389 455h1v1h-1zM409 455h1v1h-1zM429 455h1v1h-1zM449 455h1v1h-1zM469 455h1v1h-1zM489 455h1v1h-1zM509 455h1v1h-1zM529 455h1v1h-1zM549 455h1v1h-1zM569 455h1v1h-1zM585 455h1v1h-1zM605 455h1v1h-1zM625 455h1v1h-1zM645 455h1v1h-1zM665 455h1v1h-1zM685 455h1v1h-1zM705 455h1v1h-1zM725 455h1v1h-1zM729 455h1v1h-1zM745 455h1v1h-1zM765 455h1v1h-1zM789 455h1v1h-1zM817 455h1v1h-1zM845 455h1v1h-1zM873 455h1v1h-1zM5 450h1v1h-1zM9 450h1v1h-1zM13 450h1v1h-1zM17 450h1v1h-1zM21 450h1v1h-1zM25 450h1v1h-1zM29 450h1v1h-1zM33 450h1v1h-1zM37 450h1v1h-1zM41 450h1v1h-1zM45 450h1v1h-1zM49 450h1v1h-1zM53 450h1v1h-1zM57 450h1v1h-1zM61 450h1v1h-1zM65 450h1v1h-1zM69 450h1v1h-1zM73 450h1v1h-1zM77 450h1v1h-1zM81 450h1v1h-1zM85 450h1v1h-1zM89 450h1v1h-1zM93 450h1v1h-1zM97 450h1v1h-1zM101 450h1v1h-1zM105 450h1v1h-1zM109 450h1v1h-1zM113 450h1v1h-1zM117 450h1v1h-1zM121 450h1v1h-1zM125 450h1v1h-1zM129 450h1v1h-1zM133 450h1v1h-1zM137 450h1v1h-1zM141 450h1v1h-1zM145 450h1v1h-1zM149 450h1v1h-1zM153 450h1v1h-1zM157 450h1v1h-1zM161 450h1v1h-1zM165 450h1v1h-1zM169 450h1v1h-1zM173 450h1v1h-1zM177 450h1v1h-1zM181 450h1v1h-1zM185 450h1v1h-1zM189 450h1v1h-1zM193 450h1v1h-1zM197 450h1v1h-1zM201 450h1v1h-1zM205 450h1v1h-1zM209 450h1v1h-1zM213 450h1v1h-1zM217 450h1v1h-1zM221 450h1v1h-1zM225 450h1v1h-1zM229 450h1v1h-1zM233 450h1v1h-1zM237 450h1v1h-1zM241 450h1v1h-1zM245 450h1v1h-1zM249 450h1v1h-1zM253 450h1v1h-1zM257 450h1v1h-1zM261 450h1v1h-1zM265 450h1v1h-1zM269 450h1v1h-1zM273 450h1v1h-1zM277 450h1v1h-1zM281 450h1v1h-1zM285 450h1v1h-1zM289 450h1v1h-1zM293 450h1v1h-1zM297 450h1v1h-1zM301 450h1v1h-1zM305 450h1v1h-1zM309 450h1v1h-1zM313 450h1v1h-1zM317 450h1v1h-1zM321 450h1v1h-1zM325 450h1v1h-1zM329 450h1v1h-1zM333 450h1v1h-1zM337 450h1v1h-1zM341 450h1v1h-1zM345 450h1v1h-1zM349 450h1v1h-1zM353 450h1v1h-1zM357 450h1v1h-1zM361 450h1v1h-1zM365 450h1v1h-1zM369 450h1v1h-1zM373 450h1v1h-1zM377 450h1v1h-1zM381 450h1v1h-1zM385 450h1v1h-1zM389 450h1v1h-1zM393 450h1v1h-1zM397 450h1v1h-1zM401 450h1v1h-1zM405 450h1v1h-1zM409 450h1v1h-1zM413 450h1v1h-1zM417 450h1v1h-1zM421 450h1v1h-1zM425 450h1v1h-1zM429 450h1v1h-1zM433 450h1v1h-1zM437 450h1v1h-1zM441 450h1v1h-1zM445 450h1v1h-1zM449 450h1v1h-1zM453 450h1v1h-1zM457 450h1v1h-1zM461 450h1v1h-1zM465 450h1v1h-1zM469 450h1v1h-1zM473 450h1v1h-1zM477 450h1v1h-1zM481 450h1v1h-1zM485 450h1v1h-1zM489 450h1v1h-1zM493 450h1v1h-1zM497 450h1v1h-1zM501 450h1v1h-1zM505 450h1v1h-1zM509 450h1v1h-1zM513 450h1v1h-1zM517 450h1v1h-1zM521 450h1v1h-1zM525 450h1v1h-1zM529 450h1v1h-1zM533 450h1v1h-1zM537 450h1v1h-1zM541 450h1v1h-1zM545 450h1v1h-1zM549 450h1v1h-1zM553 450h1v1h-1zM557 450h1v1h-1zM561 450h1v1h-1zM565 450h1v1h-1zM569 450h1v1h-1zM573 450h1v1h-1zM577 450h1v1h-1zM581 450h1v1h-1zM585 450h1v1h-1zM589 450h1v1h-1zM593 450h1v1h-1zM597 450h1v1h-1zM601 450h1v1h-1zM605 450h1v1h-1zM609 450h1v1h-1zM613 450h1v1h-1zM617 450h1v1h-1zM621 450h1v1h-1zM625 450h1v1h-1zM629 450h1v1h-1zM633 450h1v1h-1zM637 450h1v1h-1zM641 450h1v1h-1zM645 450h1v1h-1zM649 450h1v1h-1zM653 450h1v1h-1zM657 450h1v1h-1zM661 450h1v1h-1zM665 450h1v1h-1zM669 450h1v1h-1zM673 450h1v1h-1zM677 450h1v1h-1zM681 450h1v1h-1zM685 450h1v1h-1zM689 450h1v1h-1zM693 450h1v1h-1zM697 450h1v1h-1zM701 450h1v1h-1zM705 450h1v1h-1zM709 450h1v1h-1zM713 450h1v1h-1zM717 450h1v1h-1zM721 450h1v1h-1zM725 450h1v1h-1zM729 450h1v1h-1zM733 450h1v1h-1zM737 450h1v1h-1zM741 450h1v1h-1zM745 450h1v1h-1zM749 450h1v1h-1zM753 450h1v1h-1zM757 450h1v1h-1zM761 450h1v1h-1zM765 450h1v1h-1zM769 450h1v1h-1zM773 450h1v1h-1zM777 450h1v1h-1zM781 450h1v1h-1zM785 450h1v1h-1zM789 450h1v1h-1zM793 450h1v1h-1zM797 450h1v1h-1zM801 450h1v1h-1zM805 450h1v1h-1zM809 450h1v1h-1zM813 450h1v1h-1zM817 450h1v1h-1zM821 450h1v1h-1zM825 450h1v1h-1zM829 450h1v1h-1zM833 450h1v1h-1zM837 450h1v1h-1zM841 450h1v1h-1zM845 450h1v1h-1zM849 450h1v1h-1zM853 450h1v1h-1zM857 450h1v1h-1zM861 450h1v1h-1zM865 450h1v1h-1zM869 450h1v1h-1zM873 450h1v1h-1zM877 450h1v1h-1zM21 445h1v1h-1zM41 445h1v1h-1zM57 445h1v1h-1zM73 445h1v1h-1zM93 445h1v1h-1zM113 445h1v1h-1zM133 445h1v1h-1zM153 445h1v1h-1zM169 445h1v1h-1zM189 445h1v1h-1zM209 445h1v1h-1zM229 445h1v1h-1zM249 445h1v1h-1zM269 445h1v1h-1zM289 445h1v1h-1zM309 445h1v1h-1zM329 445h1v1h-1zM349 445h1v1h-1zM369 445h1v1h-1zM389 445h1v1h-1zM409 445h1v1h-1zM429 445h1v1h-1zM449 445h1v1h-1zM469 445h1v1h-1zM489 445h1v1h-1zM509 445h1v1h-1zM529 445h1v1h-1zM549 445h1v1h-1zM569 445h1v1h-1zM585 445h1v1h-1zM605 445h1v1h-1zM625 445h1v1h-1zM645 445h1v1h-1zM665 445h1v1h-1zM685 445h1v1h-1zM705 445h1v1h-1zM725 445h1v1h-1zM729 445h1v1h-1zM745 445h1v1h-1zM765 445h1v1h-1zM789 445h1v1h-1zM817 445h1v1h-1zM845 445h1v1h-1zM873 445h1v1h-1zM21 440h1v1h-1zM41 440h1v1h-1zM57 440h1v1h-1zM73 440h1v1h-1zM93 440h1v1h-1zM113 440h1v1h-1zM133 440h1v1h-1zM153 440h1v1h-1zM169 440h1v1h-1zM189 440h1v1h-1zM209 440h1v1h-1zM229 440h1v1h-1zM249 440h1v1h-1zM269 440h1v1h-1zM289 440h1v1h-1zM309 440h1v1h-1zM329 440h1v1h-1zM349 440h1v1h-1zM369 440h1v1h-1zM389 440h1v1h-1zM409 440h1v1h-1zM429 440h1v1h-1zM449 440h1v1h-1zM469 440h1v1h-1zM489 440h1v1h-1zM509 440h1v1h-1zM529 440h1v1h-1zM549 440h1v1h-1zM569 440h1v1h-1zM585 440h1v1h-1zM605 440h1v1h-1zM625 440h1v1h-1zM645 440h1v1h-1zM665 440h1v1h-1zM685 440h1v1h-1zM705 440h1v1h-1zM725 440h1v1h-1zM729 440h1v1h-1zM745 440h1v1h-1zM765 440h1v1h-1zM789 440h1v1h-1zM817 440h1v1h-1zM845 440h1v1h-1zM873 440h1v1h-1zM21 435h1v1h-1zM41 435h1v1h-1zM57 435h1v1h-1zM73 435h1v1h-1zM93 435h1v1h-1zM113 435h1v1h-1zM133 435h1v1h-1zM153 435h1v1h-1zM169 435h1v1h-1zM189 435h1v1h-1zM209 435h1v1h-1zM229 435h1v1h-1zM249 435h1v1h-1zM269 435h1v1h-1zM289 435h1v1h-1zM309 435h1v1h-1zM329 435h1v1h-1zM349 435h1v1h-1zM369 435h1v1h-1zM389 435h1v1h-1zM409 435h1v1h-1zM429 435h1v1h-1zM449 435h1v1h-1zM469 435h1v1h-1zM489 435h1v1h-1zM509 435h1v1h-1zM529 435h1v1h-1zM549 435h1v1h-1zM569 435h1v1h-1zM585 435h1v1h-1zM605 435h1v1h-1zM625 435h1v1h-1zM645 435h1v1h-1zM665 435h1v1h-1zM685 435h1v1h-1zM705 435h1v1h-1zM725 435h1v1h-1zM729 435h1v1h-1zM745 435h1v1h-1zM765 435h1v1h-1zM789 435h1v1h-1zM817 435h1v1h-1zM845 435h1v1h-1zM873 435h1v1h-1zM21 429h1v1h-1zM41 429h1v1h-1zM57 429h1v1h-1zM73 429h1v1h-1zM93 429h1v1h-1zM113 429h1v1h-1zM133 429h1v1h-1zM153 429h1v1h-1zM169 429h1v1h-1zM189 429h1v1h-1zM209 429h1v1h-1zM229 429h1v1h-1zM249 429h1v1h-1zM269 429h1v1h-1zM289 429h1v1h-1zM309 429h1v1h-1zM329 429h1v1h-1zM349 429h1v1h-1zM369 429h1v1h-1zM389 429h1v1h-1zM409 429h1v1h-1zM429 429h1v1h-1zM449 429h1v1h-1zM469 429h1v1h-1zM489 429h1v1h-1zM509 429h1v1h-1zM529 429h1v1h-1zM549 429h1v1h-1zM569 429h1v1h-1zM585 429h1v1h-1zM605 429h1v1h-1zM625 429h1v1h-1zM645 429h1v1h-1zM665 429h1v1h-1zM685 429h1v1h-1zM705 429h1v1h-1zM725 429h1v1h-1zM729 429h1v1h-1zM745 429h1v1h-1zM765 429h1v1h-1zM789 429h1v1h-1zM817 429h1v1h-1zM845 429h1v1h-1zM873 429h1v1h-1zM21 419h1v1h-1zM41 419h1v1h-1zM57 419h1v1h-1zM73 419h1v1h-1zM93 419h1v1h-1zM113 419h1v1h-1zM133 419h1v1h-1zM153 419h1v1h-1zM169 419h1v1h-1zM189 419h1v1h-1zM209 419h1v1h-1zM229 419h1v1h-1zM249 419h1v1h-1zM269 419h1v1h-1zM289 419h1v1h-1zM309 419h1v1h-1zM329 419h1v1h-1zM349 419h1v1h-1zM369 419h1v1h-1zM389 419h1v1h-1zM409 419h1v1h-1zM429 419h1v1h-1zM449 419h1v1h-1zM469 419h1v1h-1zM489 419h1v1h-1zM509 419h1v1h-1zM529 419h1v1h-1zM549 419h1v1h-1zM569 419h1v1h-1zM585 419h1v1h-1zM605 419h1v1h-1zM625 419h1v1h-1zM645 419h1v1h-1zM665 419h1v1h-1zM685 419h1v1h-1zM705 419h1v1h-1zM725 419h1v1h-1zM729 419h1v1h-1zM745 419h1v1h-1zM765 419h1v1h-1zM789 419h1v1h-1zM817 419h1v1h-1zM845 419h1v1h-1zM873 419h1v1h-1zM21 414h1v1h-1zM41 414h1v1h-1zM57 414h1v1h-1zM73 414h1v1h-1zM93 414h1v1h-1zM113 414h1v1h-1zM133 414h1v1h-1zM153 414h1v1h-1zM169 414h1v1h-1zM189 414h1v1h-1zM209 414h1v1h-1zM229 414h1v1h-1zM249 414h1v1h-1zM269 414h1v1h-1zM289 414h1v1h-1zM309 414h1v1h-1zM329 414h1v1h-1zM349 414h1v1h-1zM369 414h1v1h-1zM389 414h1v1h-1zM409 414h1v1h-1zM429 414h1v1h-1zM449 414h1v1h-1zM469 414h1v1h-1zM489 414h1v1h-1zM509 414h1v1h-1zM529 414h1v1h-1zM549 414h1v1h-1zM569 414h1v1h-1zM585 414h1v1h-1zM605 414h1v1h-1zM625 414h1v1h-1zM645 414h1v1h-1zM665 414h1v1h-1zM685 414h1v1h-1zM705 414h1v1h-1zM725 414h1v1h-1zM729 414h1v1h-1zM745 414h1v1h-1zM765 414h1v1h-1zM789 414h1v1h-1zM817 414h1v1h-1zM845 414h1v1h-1zM873 414h1v1h-1zM21 409h1v1h-1zM41 409h1v1h-1zM57 409h1v1h-1zM73 409h1v1h-1zM93 409h1v1h-1zM113 409h1v1h-1zM133 409h1v1h-1zM153 409h1v1h-1zM169 409h1v1h-1zM189 409h1v1h-1zM209 409h1v1h-1zM229 409h1v1h-1zM249 409h1v1h-1zM269 409h1v1h-1zM289 409h1v1h-1zM309 409h1v1h-1zM329 409h1v1h-1zM349 409h1v1h-1zM369 409h1v1h-1zM389 409h1v1h-1zM409 409h1v1h-1zM429 409h1v1h-1zM449 409h1v1h-1zM469 409h1v1h-1zM489 409h1v1h-1zM509 409h1v1h-1zM529 409h1v1h-1zM549 409h1v1h-1zM569 409h1v1h-1zM585 409h1v1h-1zM605 409h1v1h-1zM625 409h1v1h-1zM645 409h1v1h-1zM665 409h1v1h-1zM685 409h1v1h-1zM705 409h1v1h-1zM725 409h1v1h-1zM729 409h1v1h-1zM745 409h1v1h-1zM765 409h1v1h-1zM789 409h1v1h-1zM817 409h1v1h-1zM845 409h1v1h-1zM873 409h1v1h-1zM21 404h1v1h-1zM41 404h1v1h-1zM57 404h1v1h-1zM73 404h1v1h-1zM93 404h1v1h-1zM113 404h1v1h-1zM133 404h1v1h-1zM153 404h1v1h-1zM169 404h1v1h-1zM189 404h1v1h-1zM209 404h1v1h-1zM229 404h1v1h-1zM249 404h1v1h-1zM269 404h1v1h-1zM289 404h1v1h-1zM309 404h1v1h-1zM329 404h1v1h-1zM349 404h1v1h-1zM369 404h1v1h-1zM389 404h1v1h-1zM409 404h1v1h-1zM429 404h1v1h-1zM449 404h1v1h-1zM469 404h1v1h-1zM489 404h1v1h-1zM509 404h1v1h-1zM529 404h1v1h-1zM549 404h1v1h-1zM569 404h1v1h-1zM585 404h1v1h-1zM605 404h1v1h-1zM625 404h1v1h-1zM645 404h1v1h-1zM665 404h1v1h-1zM685 404h1v1h-1zM705 404h1v1h-1zM725 404h1v1h-1zM729 404h1v1h-1zM745 404h1v1h-1zM765 404h1v1h-1zM789 404h1v1h-1zM817 404h1v1h-1zM845 404h1v1h-1zM873 404h1v1h-1zM5 399h1v1h-1zM9 399h1v1h-1zM13 399h1v1h-1zM17 399h1v1h-1zM21 399h1v1h-1zM25 399h1v1h-1zM29 399h1v1h-1zM33 399h1v1h-1zM37 399h1v1h-1zM41 399h1v1h-1zM45 399h1v1h-1zM49 399h1v1h-1zM53 399h1v1h-1zM57 399h1v1h-1zM61 399h1v1h-1zM65 399h1v1h-1zM69 399h1v1h-1zM73 399h1v1h-1zM77 399h1v1h-1zM81 399h1v1h-1zM85 399h1v1h-1zM89 399h1v1h-1zM93 399h1v1h-1zM97 399h1v1h-1zM101 399h1v1h-1zM105 399h1v1h-1zM109 399h1v1h-1zM113 399h1v1h-1zM117 399h1v1h-1zM121 399h1v1h-1zM125 399h1v1h-1zM129 399h1v1h-1zM133 399h1v1h-1zM137 399h1v1h-1zM141 399h1v1h-1zM145 399h1v1h-1zM149 399h1v1h-1zM153 399h1v1h-1zM157 399h1v1h-1zM161 399h1v1h-1zM165 399h1v1h-1zM169 399h1v1h-1zM173 399h1v1h-1zM177 399h1v1h-1zM181 399h1v1h-1zM185 399h1v1h-1zM189 399h1v1h-1zM193 399h1v1h-1zM197 399h1v1h-1zM201 399h1v1h-1zM205 399h1v1h-1zM209 399h1v1h-1zM213 399h1v1h-1zM217 399h1v1h-1zM221 399h1v1h-1zM225 399h1v1h-1zM229 399h1v1h-1zM233 399h1v1h-1zM237 399h1v1h-1zM241 399h1v1h-1zM245 399h1v1h-1zM249 399h1v1h-1zM253 399h1v1h-1zM257 399h1v1h-1zM261 399h1v1h-1zM265 399h1v1h-1zM269 399h1v1h-1zM273 399h1v1h-1zM277 399h1v1h-1zM281 399h1v1h-1zM285 399h1v1h-1zM289 399h1v1h-1zM293 399h1v1h-1zM297 399h1v1h-1zM301 399h1v1h-1zM305 399h1v1h-1zM309 399h1v1h-1zM313 399h1v1h-1zM317 399h1v1h-1zM321 399h1v1h-1zM325 399h1v1h-1zM329 399h1v1h-1zM333 399h1v1h-1zM337 399h1v1h-1zM341 399h1v1h-1zM345 399h1v1h-1zM349 399h1v1h-1zM353 399h1v1h-1zM357 399h1v1h-1zM361 399h1v1h-1zM365 399h1v1h-1zM369 399h1v1h-1zM373 399h1v1h-1zM377 399h1v1h-1zM381 399h1v1h-1zM385 399h1v1h-1zM389 399h1v1h-1zM393 399h1v1h-1zM397 399h1v1h-1zM401 399h1v1h-1zM405 399h1v1h-1zM409 399h1v1h-1zM413 399h1v1h-1zM417 399h1v1h-1zM421 399h1v1h-1zM425 399h1v1h-1zM429 399h1v1h-1zM433 399h1v1h-1zM437 399h1v1h-1zM441 399h1v1h-1zM445 399h1v1h-1zM449 399h1v1h-1zM453 399h1v1h-1zM457 399h1v1h-1zM461 399h1v1h-1zM465 399h1v1h-1zM469 399h1v1h-1zM473 399h1v1h-1zM477 399h1v1h-1zM481 399h1v1h-1zM485 399h1v1h-1zM489 399h1v1h-1zM493 399h1v1h-1zM497 399h1v1h-1zM501 399h1v1h-1zM505 399h1v1h-1zM509 399h1v1h-1zM513 399h1v1h-1zM517 399h1v1h-1zM521 399h1v1h-1zM525 399h1v1h-1zM529 399h1v1h-1zM533 399h1v1h-1zM537 399h1v1h-1zM541 399h1v1h-1zM545 399h1v1h-1zM549 399h1v1h-1zM553 399h1v1h-1zM557 399h1v1h-1zM561 399h1v1h-1zM565 399h1v1h-1zM569 399h1v1h-1zM573 399h1v1h-1zM577 399h1v1h-1zM581 399h1v1h-1zM585 399h1v1h-1zM589 399h1v1h-1zM593 399h1v1h-1zM597 399h1v1h-1zM601 399h1v1h-1zM605 399h1v1h-1zM609 399h1v1h-1zM613 399h1v1h-1zM617 399h1v1h-1zM621 399h1v1h-1zM625 399h1v1h-1zM629 399h1v1h-1zM633 399h1v1h-1zM637 399h1v1h-1zM641 399h1v1h-1zM645 399h1v1h-1zM649 399h1v1h-1zM653 399h1v1h-1zM657 399h1v1h-1zM661 399h1v1h-1zM665 399h1v1h-1zM669 399h1v1h-1zM673 399h1v1h-1zM677 399h1v1h-1zM681 399h1v1h-1zM685 399h1v1h-1zM689 399h1v1h-1zM693 399h1v1h-1zM697 399h1v1h-1zM701 399h1v1h-1zM705 399h1v1h-1zM709 399h1v1h-1zM713 399h1v1h-1zM717 399h1v1h-1zM721 399h1v1h-1zM725 399h1v1h-1zM729 399h1v1h-1zM733 399h1v1h-1zM737 399h1v1h-1zM741 399h1v1h-1zM745 399h1v1h-1zM749 399h1v1h-1zM753 399h1v1h-1zM757 399h1v1h-1zM761 399h1v1h-1zM765 399h1v1h-1zM769 399h1v1h-1zM773 399h1v1h-1zM777 399h1v1h-1zM781 399h1v1h-1zM785 399h1v1h-1zM789 399h1v1h-1zM793 399h1v1h-1zM797 399h1v1h-1zM801 399h1v1h-1zM805 399h1v1h-1zM809 399h1v1h-1zM813 399h1v1h-1zM817 399h1v1h-1zM821 399h1v1h-1zM825 399h1v1h-1zM829 399h1v1h-1zM833 399h1v1h-1zM837 399h1v1h-1zM841 399h1v1h-1zM845 399h1v1h-1zM849 399h1v1h-1zM853 399h1v1h-1zM857 399h1v1h-1zM861 399h1v1h-1zM865 399h1v1h-1zM869 399h1v1h-1zM873 399h1v1h-1zM877 399h1v1h-1z" fill="#000"/>
<rect x="4" y="24" width="4" height="1" fill="#000"/>
<rect x="903" y="24" width="4" height="1" fill="#000"/>
<rect x="4" y="45" width="2" height="1" fill="#000"/>
<rect x="905" y="45" width="2" height="1" fill="#000"/>
<rect x="4" y="66" width="2" height="1" fill="#000"/>
<rect x="905" y="66" width="2" height="1" fill="#000"/>
<rect x="4" y="87" width="2" height="1" fill="#000"/>
<rect x="905" y="87" width="2" height="1" fill="#000"/>
<rect x="4" y="108" width="2" height="1" fill="#000"/>
<rect x="905" y="108" width="2" height="1" fill="#000"/>
<rect x="4" y="129" width="4" height="1" fill="#000"/>
<rect x="903" y="129" width="4" height="1" fill="#000"/>
<rect x="4" y="150" width="2" height="1" fill="#000"/>
<rect x="905" y="150" width="2" height="1" fill="#000"/>
<rect x="4" y="171" width="2" height="1" fill="#000"/>
<rect x="905" y="171" width="2" height="1" fill="#000"/>
<rect x="4" y="192" width="2" height="1" fill="#000"/>
<rect x="905" y="192" width="2" height="1" fill="#000"/>
<rect x="4" y="213" width="2" height="1" fill="#000"/>
<rect x="905" y="213" width="2" height="1" fill="#000"/>
<rect x="4" y="234" width="4" height="1" fill="#000"/>
<rect x="903" y="234" width="4" height="1" fill="#000"/>
<rect x="4" y="255" width="2" height="1" fill="#000"/>
<rect x="905" y="255" width="2" height="1" fill="#000"/>
<rect x="4" y="276" width="2" height="1" fill="#000"/>
<rect x="905" y="276" width="2" height="1" fill="#000"/>
<rect x="4" y="297" width="2" height="1" fill="#000"/>
<rect x="905" y="297" width="2" height="1" fill="#000"/>
<rect x="4" y="318" width="2" height="1" fill="#000"/>
<rect x="905" y="318" width="2" height="1" fill="#000"/>
<rect x="4" y="339" width="4" height="1" fill="#000"/>
<rect x="903" y="339" width="4" height="1" fill="#000"/>
<rect x="4" y="360" width="2" height="1" fill="#000"/>
<rect x="905" y="360" width="2" height="1" fill="#000"/>
<rect x="4" y="381" width="2" height="1" fill="#000"/>
<rect x="905" y="381" width="2" height="1" fill="#000"/>
<rect x="4" y="481" width="2" height="1" fill="#000"/>
<rect x="905" y="481" width="2" height="1" fill="#000"/>
<rect x="4" y="476" width="4" height="1" fill="#000"/>
<rect x="903" y="476" width="4" height="1" fill="#000"/>
<rect x="4" y="471" width="2" height="1" fill="#000"/>
<rect x="905" y="471" width="2" height="1" fill="#000"/>
<rect x="4" y="466" width="2" height="1" fill="#000"/>
<rect x="905" y="466" width="2" height="1" fill="#000"/>
<rect x="4" y="460" width="2" height="1" fill="#000"/>
<rect x="905" y="460" width="2" height="1" fill="#000"/>
<rect x="4" y="455" width="2" height="1" fill="#000"/>
<rect x="905" y="455" width="2" height="1" fill="#000"/>
<rect x="4" y="450" width="4" height="1" fill="#000"/>
<rect x="903" y="450" width="4" height="1" fill="#000"/>
<rect x="4" y="445" width="2" height="1" fill="#000"/>
<rect x="905" y="445" width="2" height="1" fill="#000"/>
<rect x="4" y="440" width="2" height="1" fill="#000"/>
<rect x="905" y="440" width="2" height="1" fill="#000"/>
<rect x="4" y="435" width="2" height="1" fill="#000"/>
<rect x="905" y="435" width="2" height="1" fill="#000"/>
<rect x="4" y="429" width="2" height="1" fill="#000"/>
<rect x="905" y="429" width="2" height="1" fill="#000"/>
<rect x="4" y="424" width="4" height="1" fill="#000"/>
<rect x="903" y="424" width="4" height="1" fill="#000"/>
<rect x="4" y="419" width="2" height="1" fill="#000"/>
<rect x="905" y="419" width="2" height="1" fill="#000"/>
<rect x="4" y="414" width="2" height="1" fill="#000"/>
<rect x="905" y="414" width="2" height="1" fill="#000"/>
<rect x="4" y="409" width="2" height="1" fill="#000"/>
<rect x="905" y="409" width="2" height="1" fill="#000"/>
<rect x="4" y="404" width="2" height="1" fill="#000"/>
<rect x="905" y="404" width="2" height="1" fill="#000"/>
<rect x="4" y="399" width="4" height="1" fill="#000"/>
<rect x="903" y="399" width="4" height="1" fill="#000"/>
</g>
<polyline points="4.5,158.0 22.5,161.2 37.5,162.5 57.5,163.5 72.5,164.2 85.0,166.2 100.0,168.5 112.5,171.0 125.0,174.2 135.0,179.2 145.0,184.2 150.0,186.0 160.0,191.8 170.0,197.5 177.5,201.2 190.0,209.2 200.0,215.5 212.5,221.8 225.0,228.5 240.0,236.0 251.4,239.7 262.7,241.9 274.0,243.7 285.0,245.9 294.0,247.2 305.7,251.5 313.2,253.8 319.8,255.8 330.0,257.2 345.0,259.0 360.0,261.3 373.3,262.1 385.0,263.7 395.0,264.4 400.6,264.2 411.9,261.9 423.0,258.5 440.0,253.7 455.0,250.0 470.0,248.0 485.0,246.0 497.5,243.5 510.0,241.0 520.0,236.8 535.0,230.5 550.0,223.8 565.0,215.5 575.0,210.5 590.0,202.2 600.0,196.8 615.0,189.2 630.0,184.2 640.0,180.5 652.5,178.5 665.0,177.8 680.0,176.7 693.8,173.2 705.0,170.9 722.0,164.7 731.4,162.8 750.2,158.1 766.0,155.3" fill="none" stroke="#00008b" stroke-width="2.1" stroke-linejoin="round" shape-rendering="crispEdges"/>
<defs><pattern id="po" x="0" y="0" width="1" height="2" patternUnits="userSpaceOnUse"><rect x="0" y="0" width="1" height="1" fill="#ffa800"/><rect x="0" y="1" width="1" height="1" fill="#e84800"/></pattern></defs>
<g shape-rendering="crispEdges">
<path d="M5 269h1v17h-1zM4 281h3v4h-3zM9 277h1v31h-1zM8 281h3v17h-3zM13 285h1v20h-1zM12 301h3v2h-3zM17 290h1v17h-1zM16 297h3v2h-3zM21 281h1v31h-1zM20 296h3v5h-3zM25 294h1v24h-1zM24 298h3v7h-3zM29 256h1v41h-1zM28 257h3v40h-3zM33 248h1v20h-1zM32 257h3v7h-3zM37 260h1v17h-1zM36 262h3v2h-3zM41 255h1v20h-1zM40 263h3v10h-3zM45 244h1v31h-1zM44 248h3v24h-3zM49 250h1v15h-1zM48 251h3v2h-3zM53 224h1v31h-1zM52 224h3v31h-3zM57 215h1v12h-1zM56 219h3v6h-3zM61 201h1v24h-1zM60 201h3v24h-3zM65 196h1v15h-1zM64 199h3v4h-3zM69 185h1v26h-1zM68 202h3v4h-3zM73 206h1v19h-1zM72 206h3v17h-3zM77 212h1v23h-1zM76 225h3v4h-3zM81 224h1v25h-1zM80 227h3v14h-3zM85 239h1v23h-1zM84 239h3v23h-3zM89 229h1v33h-1zM88 229h3v33h-3zM93 220h1v15h-1zM92 226h3v4h-3zM97 207h1v28h-1zM96 209h3v19h-3zM101 177h1v34h-1zM100 187h3v23h-3zM105 190h1v51h-1zM104 190h3v45h-3zM109 229h1v30h-1zM108 234h3v19h-3zM113 244h1v18h-1zM112 250h3v7h-3zM117 229h1v28h-1zM116 240h3v17h-3zM121 240h1v35h-1zM120 240h3v35h-3zM125 262h1v18h-1zM124 274h3v3h-3zM129 263h1v33h-1zM128 273h3v21h-3zM133 282h1v30h-1zM132 294h3v5h-3zM137 278h1v20h-1zM136 295h3v2h-3zM141 293h1v25h-1zM140 295h3v22h-3zM145 308h1v15h-1zM144 312h3v6h-3zM149 288h1v30h-1zM148 291h3v27h-3zM153 276h1v34h-1zM152 289h3v11h-3zM157 296h1v45h-1zM156 299h3v38h-3zM161 347h1v22h-1zM160 347h3v6h-3zM165 332h1v24h-1zM164 338h3v12h-3zM169 309h1v31h-1zM168 314h3v26h-3zM173 294h1v25h-1zM172 302h3v13h-3zM177 296h1v25h-1zM176 302h3v13h-3zM181 319h1v27h-1zM180 319h3v24h-3zM185 322h1v27h-1zM184 340h3v6h-3zM189 334h1v21h-1zM188 346h3v2h-3zM193 329h1v21h-1zM192 336h3v14h-3zM197 313h1v28h-1zM196 316h3v24h-3zM201 313h1v21h-1zM200 314h3v11h-3zM205 306h1v22h-1zM204 306h3v17h-3zM209 296h1v23h-1zM208 301h3v8h-3zM213 296h1v13h-1zM212 299h3v3h-3zM217 300h1v12h-1zM216 301h3v2h-3zM221 286h1v19h-1zM220 286h3v16h-3zM225 275h1v23h-1zM224 285h3v7h-3zM229 283h1v16h-1zM228 285h3v11h-3zM233 281h1v13h-1zM232 285h3v6h-3zM237 288h1v18h-1zM236 290h3v14h-3zM241 265h1v31h-1zM240 268h3v28h-3zM245 233h1v36h-1zM244 239h3v29h-3zM249 224h1v16h-1zM248 232h3v5h-3zM253 217h1v16h-1zM252 226h3v7h-3zM257 199h1v27h-1zM256 200h3v26h-3zM261 192h1v33h-1zM260 200h3v17h-3zM265 196h1v29h-1zM264 208h3v11h-3zM269 203h1v22h-1zM268 210h3v7h-3zM273 202h1v16h-1zM272 214h3v2h-3zM277 213h1v19h-1zM276 213h3v13h-3zM281 224h1v14h-1zM280 229h3v4h-3zM285 223h1v11h-1zM284 228h3v4h-3zM289 222h1v14h-1zM288 231h3v2h-3zM293 224h1v25h-1zM292 232h3v16h-3zM297 242h1v18h-1zM296 245h3v13h-3zM301 233h1v21h-1zM300 235h3v19h-3zM305 224h1v24h-1zM304 232h3v10h-3zM309 233h1v14h-1zM308 241h3v3h-3zM313 244h1v30h-1zM312 246h3v24h-3zM317 260h1v21h-1zM316 274h3v2h-3zM321 264h1v19h-1zM320 268h3v6h-3zM325 249h1v24h-1zM324 252h3v19h-3zM329 244h1v13h-1zM328 247h3v6h-3zM333 223h1v21h-1zM332 226h3v18h-3zM337 207h1v19h-1zM336 209h3v17h-3zM341 211h1v35h-1zM340 211h3v32h-3zM345 237h1v27h-1zM344 245h3v9h-3zM349 249h1v17h-1zM348 251h3v5h-3zM353 255h1v16h-1zM352 256h3v4h-3zM357 244h1v23h-1zM356 257h3v2h-3zM361 234h1v33h-1zM360 237h3v26h-3zM365 232h1v11h-1zM364 235h3v6h-3zM369 230h1v22h-1zM368 238h3v11h-3zM373 251h1v16h-1zM372 253h3v11h-3zM377 260h1v21h-1zM376 264h3v2h-3zM381 255h1v13h-1zM380 262h3v3h-3zM385 263h1v14h-1zM384 263h3v9h-3zM389 255h1v17h-1zM388 267h3v5h-3zM393 250h1v16h-1zM392 261h3v2h-3zM397 259h1v11h-1zM396 261h3v5h-3zM401 209h1v49h-1zM400 211h3v47h-3zM405 183h1v31h-1zM404 209h3v5h-3zM409 176h1v29h-1zM408 179h3v26h-3zM413 166h1v18h-1zM412 174h3v5h-3zM417 171h1v12h-1zM416 177h3v2h-3zM421 169h1v21h-1zM420 172h3v9h-3zM425 180h1v18h-1zM424 185h3v7h-3zM429 156h1v33h-1zM428 158h3v31h-3zM433 157h1v12h-1zM432 161h3v2h-3zM437 147h1v21h-1zM436 155h3v3h-3zM441 127h1v20h-1zM440 144h3v3h-3zM445 141h1v15h-1zM444 146h3v7h-3zM449 150h1v17h-1zM448 154h3v9h-3zM453 158h1v14h-1zM452 166h3v2h-3zM457 148h1v24h-1zM456 152h3v15h-3zM461 139h1v16h-1zM460 146h3v6h-3zM465 143h1v19h-1zM464 145h3v14h-3zM469 158h1v19h-1zM468 161h3v7h-3zM473 157h1v15h-1zM472 158h3v12h-3zM477 155h1v27h-1zM476 159h3v16h-3zM481 164h1v16h-1zM480 173h3v2h-3zM485 155h1v26h-1zM484 157h3v19h-3zM489 148h1v20h-1zM488 149h3v12h-3zM493 123h1v27h-1zM492 127h3v23h-3zM497 116h1v18h-1zM496 126h3v3h-3zM501 104h1v22h-1zM500 109h3v17h-3zM505 103h1v19h-1zM504 105h3v13h-3zM509 117h1v11h-1zM508 118h3v2h-3zM513 95h1v17h-1zM512 97h3v15h-3zM517 90h1v15h-1zM516 93h3v8h-3zM521 90h1v32h-1zM520 92h3v24h-3zM525 89h1v26h-1zM524 89h3v22h-3zM529 87h1v14h-1zM528 91h3v2h-3zM533 91h1v13h-1zM532 93h3v9h-3zM537 102h1v23h-1zM536 104h3v19h-3zM541 118h1v13h-1zM540 119h3v9h-3zM545 121h1v15h-1zM544 123h3v6h-3zM549 107h1v16h-1zM548 117h3v2h-3zM553 107h1v15h-1zM552 110h3v9h-3zM557 100h1v17h-1zM556 110h3v5h-3zM561 118h1v12h-1zM560 119h3v5h-3zM565 111h1v10h-1zM564 113h3v8h-3zM569 107h1v16h-1zM568 111h3v11h-3zM573 117h1v14h-1zM572 119h3v9h-3zM577 112h1v22h-1zM576 121h3v10h-3zM581 125h1v19h-1zM580 125h3v16h-3zM585 133h1v18h-1zM584 136h3v13h-3zM589 128h1v20h-1zM588 128h3v17h-3zM593 132h1v35h-1zM592 133h3v31h-3zM597 134h1v21h-1zM596 138h3v17h-3zM601 125h1v16h-1zM600 135h3v2h-3zM605 114h1v19h-1zM604 116h3v17h-3zM609 110h1v13h-1zM608 117h3v2h-3zM613 120h1v15h-1zM612 120h3v3h-3zM617 126h1v13h-1zM616 126h3v10h-3zM621 121h1v17h-1zM620 123h3v9h-3zM625 115h1v12h-1zM624 123h3v4h-3zM629 125h1v24h-1zM628 126h3v20h-3zM633 140h1v18h-1zM632 143h3v13h-3zM637 142h1v12h-1zM636 145h3v8h-3zM641 146h1v17h-1zM640 150h3v2h-3zM645 140h1v17h-1zM644 150h3v7h-3zM649 159h1v31h-1zM648 160h3v24h-3zM653 175h1v20h-1zM652 182h3v11h-3zM657 184h1v21h-1zM656 190h3v15h-3zM661 181h1v26h-1zM660 183h3v19h-3zM665 164h1v22h-1zM664 165h3v18h-3zM669 159h1v13h-1zM668 165h3v2h-3zM673 162h1v18h-1zM672 167h3v2h-3zM677 173h1v14h-1zM676 176h3v6h-3zM681 173h1v13h-1zM680 180h3v2h-3zM685 155h1v30h-1zM684 157h3v28h-3zM689 146h1v14h-1zM688 149h3v11h-3zM693 138h1v15h-1zM692 138h3v15h-3zM697 119h1v17h-1zM696 128h3v8h-3zM701 126h1v13h-1zM700 128h3v6h-3zM705 118h1v12h-1zM704 120h3v9h-3zM709 117h1v12h-1zM708 120h3v2h-3zM713 118h1v12h-1zM712 122h3v7h-3zM717 123h1v7h-1zM716 128h3v2h-3zM721 123h1v12h-1zM720 126h3v9h-3zM725 124h1v14h-1zM724 125h3v11h-3zM729 128h1v40h-1zM728 128h3v40h-3zM733 160h1v11h-1zM732 162h3v7h-3zM737 161h1v10h-1zM736 165h3v5h-3zM741 159h1v18h-1zM740 161h3v6h-3zM745 147h1v17h-1zM744 153h3v9h-3zM749 155h1v22h-1zM748 156h3v4h-3zM753 141h1v16h-1zM752 144h3v13h-3zM757 137h1v14h-1zM756 142h3v8h-3zM761 134h1v22h-1zM760 145h3v7h-3zM765 129h1v18h-1zM764 133h3v11h-3z" fill="#000"/>
<path d="M5 282h1v2h-1zM25 299h1v5h-1zM29 258h1v38h-1zM45 249h1v22h-1zM53 225h1v29h-1zM57 220h1v4h-1zM61 202h1v22h-1zM65 200h1v2h-1zM89 230h1v31h-1zM93 227h1v2h-1zM97 210h1v17h-1zM101 188h1v21h-1zM117 241h1v15h-1zM125 275h1v1h-1zM149 292h1v25h-1zM165 339h1v10h-1zM169 315h1v24h-1zM173 303h1v11h-1zM185 341h1v4h-1zM193 337h1v12h-1zM197 317h1v22h-1zM205 307h1v15h-1zM209 302h1v6h-1zM213 300h1v1h-1zM221 287h1v14h-1zM229 286h1v9h-1zM241 269h1v26h-1zM245 240h1v27h-1zM249 233h1v3h-1zM253 227h1v5h-1zM257 201h1v24h-1zM265 209h1v9h-1zM301 236h1v17h-1zM325 253h1v17h-1zM329 248h1v4h-1zM333 227h1v16h-1zM337 210h1v15h-1zM349 252h1v3h-1zM353 257h1v2h-1zM361 238h1v24h-1zM381 263h1v1h-1zM389 268h1v3h-1zM397 262h1v3h-1zM401 212h1v45h-1zM405 210h1v3h-1zM409 180h1v24h-1zM429 159h1v29h-1zM437 156h1v1h-1zM441 145h1v1h-1zM457 153h1v13h-1zM461 147h1v4h-1zM473 159h1v10h-1zM485 158h1v17h-1zM489 150h1v10h-1zM493 128h1v21h-1zM501 110h1v15h-1zM513 98h1v13h-1zM517 94h1v6h-1zM525 90h1v20h-1zM545 124h1v4h-1zM553 111h1v7h-1zM561 120h1v3h-1zM565 114h1v6h-1zM577 122h1v8h-1zM589 129h1v15h-1zM597 139h1v15h-1zM605 117h1v15h-1zM621 124h1v7h-1zM637 146h1v6h-1zM661 184h1v17h-1zM665 166h1v16h-1zM685 158h1v26h-1zM689 150h1v9h-1zM693 139h1v13h-1zM697 129h1v6h-1zM705 121h1v7h-1zM725 126h1v9h-1zM741 162h1v4h-1zM745 154h1v7h-1zM753 145h1v11h-1zM761 146h1v5h-1zM765 134h1v9h-1z" fill="#008000"/>
<path d="M9 282h1v15h-1zM21 297h1v3h-1zM33 258h1v5h-1zM41 264h1v8h-1zM69 203h1v2h-1zM73 207h1v15h-1zM77 226h1v2h-1zM81 228h1v12h-1zM85 240h1v21h-1zM105 191h1v43h-1zM109 235h1v17h-1zM113 251h1v5h-1zM121 241h1v33h-1zM129 274h1v19h-1zM133 295h1v3h-1zM141 296h1v20h-1zM145 313h1v4h-1zM153 290h1v9h-1zM157 300h1v36h-1zM161 348h1v4h-1zM177 303h1v11h-1zM181 320h1v22h-1zM201 315h1v9h-1zM225 286h1v5h-1zM233 286h1v4h-1zM237 291h1v12h-1zM261 201h1v15h-1zM269 211h1v5h-1zM277 214h1v11h-1zM281 230h1v2h-1zM285 229h1v2h-1zM293 233h1v14h-1zM297 246h1v11h-1zM305 233h1v8h-1zM309 242h1v1h-1zM313 247h1v22h-1zM321 269h1v4h-1zM341 212h1v30h-1zM345 246h1v7h-1zM365 236h1v4h-1zM369 239h1v9h-1zM373 254h1v9h-1zM385 264h1v7h-1zM413 175h1v3h-1zM421 173h1v7h-1zM425 186h1v5h-1zM445 147h1v5h-1zM449 155h1v7h-1zM465 146h1v12h-1zM469 162h1v5h-1zM477 160h1v14h-1zM497 127h1v1h-1zM505 106h1v11h-1zM521 93h1v22h-1zM533 94h1v7h-1zM537 105h1v17h-1zM541 120h1v7h-1zM557 111h1v3h-1zM569 112h1v9h-1zM573 120h1v7h-1zM581 126h1v14h-1zM585 137h1v11h-1zM593 134h1v29h-1zM613 121h1v1h-1zM617 127h1v8h-1zM625 124h1v2h-1zM629 127h1v18h-1zM633 144h1v11h-1zM645 151h1v5h-1zM649 161h1v22h-1zM653 183h1v9h-1zM657 191h1v13h-1zM677 177h1v4h-1zM701 129h1v4h-1zM713 123h1v5h-1zM721 127h1v7h-1zM729 129h1v38h-1zM733 163h1v5h-1zM737 166h1v3h-1zM749 157h1v2h-1zM757 143h1v6h-1z" fill="url(#po)"/>
<rect x="4" y="200" width="903" height="2" fill="#0000e0"/>
<rect x="4" y="311" width="903" height="2" fill="#ff0000"/>
<line x1="161.5" y1="368.6" x2="878" y2="77.6" stroke="#008000" stroke-width="2.2" shape-rendering="crispEdges"/>
<path d="M4 424h3v27h-3zM8 424h3v30h-3zM12 424h3v33h-3zM16 424h3v34h-3zM20 424h3v35h-3zM24 424h3v35h-3zM28 424h3v31h-3zM32 424h3v28h-3zM36 424h3v26h-3zM40 424h3v24h-3zM44 424h3v21h-3zM48 424h3v19h-3zM52 424h3v14h-3zM56 424h3v10h-3zM60 424h3v6h-3zM64 424h3v2h-3zM68 423h3v1h-3zM72 423h3v1h-3zM76 423h3v1h-3zM80 423h3v1h-3zM84 424h3v2h-3zM88 424h3v1h-3zM96 423h3v1h-3zM100 419h3v5h-3zM104 421h3v3h-3zM108 423h3v1h-3zM116 424h3v2h-3zM120 424h3v4h-3zM124 424h3v7h-3zM128 424h3v10h-3zM132 424h3v13h-3zM136 424h3v15h-3zM140 424h3v17h-3zM144 424h3v19h-3zM148 424h3v19h-3zM152 424h3v19h-3zM156 424h3v22h-3zM160 424h3v25h-3zM164 424h3v26h-3zM168 424h3v24h-3zM172 424h3v22h-3zM176 424h3v22h-3zM180 424h3v22h-3zM184 424h3v23h-3zM188 424h3v22h-3zM192 424h3v22h-3zM196 424h3v20h-3zM200 424h3v19h-3zM204 424h3v16h-3zM208 424h3v14h-3zM212 424h3v11h-3zM216 424h3v9h-3zM220 424h3v7h-3zM224 424h3v5h-3zM228 424h3v3h-3zM232 424h3v2h-3zM236 424h3v2h-3zM240 423h3v1h-3zM244 419h3v5h-3zM248 415h3v9h-3zM252 411h3v13h-3zM256 407h3v17h-3zM260 405h3v19h-3zM264 403h3v21h-3zM268 402h3v22h-3zM272 401h3v23h-3zM276 402h3v22h-3zM280 403h3v21h-3zM284 405h3v19h-3zM288 406h3v18h-3zM292 407h3v17h-3zM296 411h3v13h-3zM300 412h3v12h-3zM304 413h3v11h-3zM308 414h3v10h-3zM312 417h3v7h-3zM316 420h3v4h-3zM320 422h3v2h-3zM324 422h3v2h-3zM328 422h3v2h-3zM332 420h3v4h-3zM336 417h3v7h-3zM340 418h3v6h-3zM344 419h3v5h-3zM348 420h3v4h-3zM352 421h3v3h-3zM356 422h3v2h-3zM360 422h3v2h-3zM364 421h3v3h-3zM368 422h3v2h-3zM372 423h3v1h-3zM376 424h3v1h-3zM380 424h3v2h-3zM384 424h3v3h-3zM388 424h3v4h-3zM392 424h3v4h-3zM396 424h3v4h-3zM404 420h3v4h-3zM408 416h3v8h-3zM412 412h3v12h-3zM416 409h3v15h-3zM420 407h3v17h-3zM424 407h3v17h-3zM428 404h3v20h-3zM432 402h3v22h-3zM436 401h3v23h-3zM440 399h3v25h-3zM444 399h3v25h-3zM448 399h3v25h-3zM452 400h3v24h-3zM456 400h3v24h-3zM460 400h3v24h-3zM464 401h3v23h-3zM468 402h3v22h-3zM472 404h3v20h-3zM476 406h3v18h-3zM480 408h3v16h-3zM484 409h3v15h-3zM488 409h3v15h-3zM492 407h3v17h-3zM496 407h3v17h-3zM500 404h3v20h-3zM504 403h3v21h-3zM508 403h3v21h-3zM512 401h3v23h-3zM516 400h3v24h-3zM520 401h3v23h-3zM524 400h3v24h-3zM528 400h3v24h-3zM532 400h3v24h-3zM536 403h3v21h-3zM540 405h3v19h-3zM544 407h3v17h-3zM548 409h3v15h-3zM552 409h3v15h-3zM556 410h3v14h-3zM560 411h3v13h-3zM564 412h3v12h-3zM568 413h3v11h-3zM572 415h3v9h-3zM576 416h3v8h-3zM580 418h3v6h-3zM584 421h3v3h-3zM588 421h3v3h-3zM596 424h3v1h-3zM600 424h3v1h-3zM608 423h3v1h-3zM612 422h3v2h-3zM616 423h3v1h-3zM620 423h3v1h-3zM624 423h3v1h-3zM632 424h3v2h-3zM636 424h3v3h-3zM640 424h3v4h-3zM644 424h3v5h-3zM648 424h3v8h-3zM652 424h3v11h-3zM656 424h3v14h-3zM660 424h3v14h-3zM664 424h3v13h-3zM668 424h3v12h-3zM672 424h3v12h-3zM676 424h3v12h-3zM680 424h3v12h-3zM684 424h3v10h-3zM688 424h3v8h-3zM692 424h3v5h-3zM696 424h3v2h-3zM704 422h3v2h-3zM708 420h3v4h-3zM712 419h3v5h-3zM716 418h3v6h-3zM720 418h3v6h-3zM724 418h3v6h-3zM728 421h3v3h-3zM732 422h3v2h-3zM736 424h3v1h-3zM740 424h3v2h-3zM744 424h3v2h-3zM748 424h3v2h-3zM752 424h3v1h-3zM756 424h3v1h-3zM760 424h3v1h-3zM764 424h3v1h-3z" fill="#0000ff"/>
</g>
<polyline points="4.4,446.8 12.5,449.3 18.7,452.2 25.0,454.7 31.0,454.9 37.5,453.3 43.7,451.3 50.0,449.1 56.0,445.6 62.5,440.9 68.7,436.3 75.0,432.6 81.0,429.9 87.5,429.1 93.7,427.6 100.0,425.9 106.0,424.8 120.0,425.2 126.2,427.2 132.5,430.6 138.8,432.4 145.0,435.3 151.2,438.4 157.5,440.3 163.8,442.8 170.0,445.1 176.2,445.9 187.5,445.9 188.8,446.8 198.8,446.8 207.5,444.3 213.8,441.6 220.0,439.1 226.2,435.9 232.5,432.8 240.0,431.0 246.2,427.3 252.5,423.6 258.8,418.6 265.0,413.8 271.2,410.2 277.5,408.3 283.8,407.1 290.0,407.1 296.2,408.3 302.5,408.8 308.8,410.2 315.0,412.9 321.2,415.2 327.5,417.9 330.0,418.8 347.5,418.8 352.5,419.8 360.0,420.9 367.5,421.1 375.0,422.1 380.0,423.6 387.5,423.9 397.5,425.8 402.5,425.8 410.0,423.6 416.2,418.8 422.5,416.1 428.8,412.9 435.0,409.8 441.2,407.1 447.5,405.2 453.8,403.8 460.0,402.9 468.8,402.9 472.5,403.8 480.0,404.2 487.5,406.7 501.2,406.7 505.0,405.4 515.0,403.8 530.0,402.6 533.8,401.7 542.5,402.6 548.8,404.2 555.0,405.8 561.2,407.6 567.5,409.2 573.8,410.8 580.0,412.9 586.2,415.1 592.5,417.3 600.0,420.3 606.2,422.1 631.2,422.7 637.5,424.6 646.2,425.8 653.8,428.6 662.5,432.9 668.8,434.8 680.0,435.8 687.5,435.4 693.8,433.9 700.0,431.3 706.2,429.1 712.5,426.1 718.8,424.2 723.8,422.7 735.0,422.7 737.5,423.6 743.8,423.9 745.0,424.8 751.2,424.8 752.5,425.7 762.5,425.7 763.8,424.8 766.0,424.8" fill="none" stroke="#ff0000" stroke-width="1" stroke-linejoin="round" shape-rendering="crispEdges"/>
<g shape-rendering="crispEdges">
<rect x="3" y="4" width="957" height="1" fill="#000"/>
<rect x="3" y="4" width="1" height="482" fill="#000"/>
<rect x="959" y="4" width="1" height="482" fill="#000"/>
<rect x="907" y="4" width="1" height="485" fill="#000"/>
<rect x="3" y="388" width="957" height="2" fill="#000"/>
<rect x="3" y="485" width="957" height="1" fill="#000"/>
<rect x="3" y="488" width="905" height="1" fill="#000"/>
<rect x="21" y="489" width="1" height="12" fill="#000"/>
<rect x="73" y="489" width="1" height="12" fill="#000"/>
<rect x="133" y="489" width="1" height="12" fill="#000"/>
<rect x="189" y="489" width="1" height="12" fill="#000"/>
<rect x="209" y="489" width="1" height="12" fill="#000"/>
<rect x="249" y="489" width="1" height="12" fill="#000"/>
<rect x="269" y="489" width="1" height="12" fill="#000"/>
<rect x="289" y="489" width="1" height="12" fill="#000"/>
<rect x="309" y="489" width="1" height="12" fill="#000"/>
<rect x="349" y="489" width="1" height="12" fill="#000"/>
<rect x="369" y="489" width="1" height="12" fill="#000"/>
<rect x="389" y="489" width="1" height="12" fill="#000"/>
<rect x="429" y="489" width="1" height="12" fill="#000"/>
<rect x="449" y="489" width="1" height="12" fill="#000"/>
<rect x="469" y="489" width="1" height="12" fill="#000"/>
<rect x="489" y="489" width="1" height="12" fill="#000"/>
<rect x="529" y="489" width="1" height="12" fill="#000"/>
<rect x="549" y="489" width="1" height="12" fill="#000"/>
<rect x="569" y="489" width="1" height="12" fill="#000"/>
<rect x="625" y="489" width="1" height="12" fill="#000"/>
<rect x="645" y="489" width="1" height="12" fill="#000"/>
<rect x="685" y="489" width="1" height="12" fill="#000"/>
<rect x="705" y="489" width="1" height="12" fill="#000"/>
<rect x="725" y="489" width="1" height="12" fill="#000"/>
<rect x="745" y="489" width="1" height="12" fill="#000"/>
<rect x="907" y="72" width="53" height="12" fill="#000"/>
<rect x="908" y="73" width="50" height="10" fill="#008000"/>
<rect x="907" y="128" width="53" height="12" fill="#000"/>
<rect x="908" y="129" width="50" height="10" fill="#000"/>
<rect x="907" y="149" width="53" height="12" fill="#000"/>
<rect x="908" y="150" width="50" height="10" fill="#0000a4"/>
<rect x="907" y="196" width="53" height="12" fill="#000"/>
<rect x="908" y="197" width="50" height="10" fill="#0000e0"/>
<rect x="907" y="307" width="53" height="12" fill="#000"/>
<rect x="908" y="308" width="50" height="10" fill="#ff0000"/>
<rect x="907" y="419" width="53" height="12" fill="#000"/>
<rect x="908" y="420" width="50" height="10" fill="#ff0000"/>
<rect x="6" y="7" width="27" height="11" fill="#666"/>
<rect x="4" y="5" width="27" height="11" fill="#fff"/>
<rect x="6" y="392" width="32" height="11" fill="#666"/>
<rect x="4" y="390" width="32" height="11" fill="#fff"/>
<rect x="944" y="486" width="16" height="15" fill="#a40800"/>
<rect x="946.5" y="489.5" width="11" height="8" rx="1" fill="none" stroke="#fff" stroke-width="1"/>
<rect x="0" y="503" width="961" height="1" fill="#fff"/>
<rect x="0" y="504" width="961" height="28" fill="#404040"/>
</g>
<path d="M950.8 493.5h4.6M953.3 491.3l2.3 2.2l-2.3 2.2" stroke="#fff" stroke-width="1.2" fill="none"/>
<clipPath id="c15"><rect x="908" y="120" width="51" height="8"/></clipPath>
<text transform="translate(957.4,28) rotate(0.03)" font-family="'Liberation Sans', sans-serif" font-size="10.2" font-weight="bold" fill="#000" stroke="#000" stroke-width="0.4" letter-spacing="0.28" text-anchor="end" >1600.00</text>
<g clip-path="url(#c15)">
<text transform="translate(957.4,133) rotate(0.03)" font-family="'Liberation Sans', sans-serif" font-size="10.2" font-weight="bold" fill="#000" stroke="#000" stroke-width="0.4" letter-spacing="0.28" text-anchor="end" >1500.00</text>
</g>
<text transform="translate(957.4,238) rotate(0.03)" font-family="'Liberation Sans', sans-serif" font-size="10.2" font-weight="bold" fill="#000" stroke="#000" stroke-width="0.4" letter-spacing="0.28" text-anchor="end" >1400.00</text>
<text transform="translate(957.4,343) rotate(0.03)" font-family="'Liberation Sans', sans-serif" font-size="10.2" font-weight="bold" fill="#000" stroke="#000" stroke-width="0.4" letter-spacing="0.28" text-anchor="end" >1300.00</text>
<text transform="translate(957.4,403) rotate(0.03)" font-family="'Liberation Sans', sans-serif" font-size="10.2" font-weight="bold" fill="#000" stroke="#000" stroke-width="0.4" letter-spacing="0.28" text-anchor="end" >25.00</text>
<text transform="translate(957.4,454) rotate(0.03)" font-family="'Liberation Sans', sans-serif" font-size="10.2" font-weight="bold" fill="#000" stroke="#000" stroke-width="0.4" letter-spacing="0.28" text-anchor="end" >-25.00</text>
<text transform="translate(957.4,480) rotate(0.03)" font-family="'Liberation Sans', sans-serif" font-size="10.2" font-weight="bold" fill="#000" stroke="#000" stroke-width="0.4" letter-spacing="0.28" text-anchor="end" >-50.00</text>
<text x="918.9" y="82" font-family="'Liberation Serif', serif" font-size="10.4" font-weight="bold" fill="#000" stroke="#000" stroke-width="0.35" textLength="39.2" lengthAdjust="spacingAndGlyphs">1549.31</text>
<text transform="translate(958.6,138) rotate(0.03)" font-family="'Liberation Sans', sans-serif" font-size="10.2" font-weight="bold" fill="#fff" stroke="#fff" stroke-width="0.4" letter-spacing="0.28" text-anchor="end" >1495.94</text>
<text transform="translate(958.6,159) rotate(0.03)" font-family="'Liberation Sans', sans-serif" font-size="10.2" font-weight="bold" fill="#fff" stroke="#fff" stroke-width="0.4" letter-spacing="0.28" text-anchor="end" >1475.72</text>
<text x="918.9" y="206" font-family="'Liberation Serif', serif" font-size="10.4" font-weight="bold" fill="#fff" stroke="#fff" stroke-width="0.35" textLength="39.2" lengthAdjust="spacingAndGlyphs">1431.32</text>
<text x="918.9" y="317" font-family="'Liberation Serif', serif" font-size="10.4" font-weight="bold" fill="#fff" stroke="#fff" stroke-width="0.35" textLength="39.2" lengthAdjust="spacingAndGlyphs">1325.03</text>
<text x="932.8000000000001" y="429" font-family="'Liberation Serif', serif" font-size="10.4" font-weight="bold" fill="#000" stroke="#000" stroke-width="0.35" textLength="25.3" lengthAdjust="spacingAndGlyphs">-0.31</text>
<text transform="translate(5,14) rotate(0.03)" font-family="'Liberation Sans', sans-serif" font-size="10.2" font-weight="bold" fill="#000" stroke="#000" stroke-width="0.4" letter-spacing="0.3" text-anchor="start" >Data</text>
<text transform="translate(5,399) rotate(0.03)" font-family="'Liberation Sans', sans-serif" font-size="10" font-weight="bold" fill="#000" stroke="#000" stroke-width="0.4" letter-spacing="0" text-anchor="start" textLength="28.8" lengthAdjust="spacingAndGlyphs">MACD</text>
<text x="22.7" y="499" font-family="'Liberation Sans', sans-serif" font-size="11" font-weight="normal" fill="#000" text-anchor="start" letter-spacing="1.05">Апр 22</text>
<text x="74.7" y="499" font-family="'Liberation Sans', sans-serif" font-size="11" font-weight="normal" fill="#000" text-anchor="start" letter-spacing="1.05">Май 13</text>
<text x="134.7" y="499" font-family="'Liberation Sans', sans-serif" font-size="11" font-weight="normal" fill="#000" text-anchor="start" letter-spacing="1.05">Июн 3</text>
<text x="190.7" y="499" font-family="'Liberation Sans', sans-serif" font-size="11" font-weight="normal" fill="#000" text-anchor="start" letter-spacing="1.05">24</text>
<text x="210.7" y="499" font-family="'Liberation Sans', sans-serif" font-size="11" font-weight="normal" fill="#000" text-anchor="start" letter-spacing="1.05">Июл 1</text>
<text x="250.7" y="499" font-family="'Liberation Sans', sans-serif" font-size="11" font-weight="normal" fill="#000" text-anchor="start" letter-spacing="1.05">15</text>
<text x="270.7" y="499" font-family="'Liberation Sans', sans-serif" font-size="11" font-weight="normal" fill="#000" text-anchor="start" letter-spacing="1.05">22</text>
<text x="290.7" y="499" font-family="'Liberation Sans', sans-serif" font-size="11" font-weight="normal" fill="#000" text-anchor="start" letter-spacing="1.05">29</text>
<text x="310.7" y="499" font-family="'Liberation Sans', sans-serif" font-size="11" font-weight="normal" fill="#000" text-anchor="start" letter-spacing="1.05">Авг 5</text>
<text x="350.7" y="499" font-family="'Liberation Sans', sans-serif" font-size="11" font-weight="normal" fill="#000" text-anchor="start" letter-spacing="1.05">19</text>
<text x="370.7" y="499" font-family="'Liberation Sans', sans-serif" font-size="11" font-weight="normal" fill="#000" text-anchor="start" letter-spacing="1.05">26</text>
<text x="390.7" y="499" font-family="'Liberation Sans', sans-serif" font-size="11" font-weight="normal" fill="#000" text-anchor="start" letter-spacing="1.05">Сен 2</text>
<text x="430.7" y="499" font-family="'Liberation Sans', sans-serif" font-size="11" font-weight="normal" fill="#000" text-anchor="start" letter-spacing="1.05">16</text>
<text x="450.7" y="499" font-family="'Liberation Sans', sans-serif" font-size="11" font-weight="normal" fill="#000" text-anchor="start" letter-spacing="1.05">23</text>
<text x="470.7" y="499" font-family="'Liberation Sans', sans-serif" font-size="11" font-weight="normal" fill="#000" text-anchor="start" letter-spacing="1.05">30</text>
<text x="490.7" y="499" font-family="'Liberation Sans', sans-serif" font-size="11" font-weight="normal" fill="#000" text-anchor="start" letter-spacing="1.05">Окт 7</text>
<text x="530.7" y="499" font-family="'Liberation Sans', sans-serif" font-size="11" font-weight="normal" fill="#000" text-anchor="start" letter-spacing="1.05">21</text>
<text x="550.7" y="499" font-family="'Liberation Sans', sans-serif" font-size="11" font-weight="normal" fill="#000" text-anchor="start" letter-spacing="1.05">28</text>
<text x="570.7" y="499" font-family="'Liberation Sans', sans-serif" font-size="11" font-weight="normal" fill="#000" text-anchor="start" letter-spacing="1.05">Ноя 5</text>
<text x="626.7" y="499" font-family="'Liberation Sans', sans-serif" font-size="11" font-weight="normal" fill="#000" text-anchor="start" letter-spacing="1.05">25</text>
<text x="646.7" y="499" font-family="'Liberation Sans', sans-serif" font-size="11" font-weight="normal" fill="#000" text-anchor="start" letter-spacing="1.05">Дек 2</text>
<text x="686.7" y="499" font-family="'Liberation Sans', sans-serif" font-size="11" font-weight="normal" fill="#000" text-anchor="start" letter-spacing="1.05">16</text>
<text x="706.7" y="499" font-family="'Liberation Sans', sans-serif" font-size="11" font-weight="normal" fill="#000" text-anchor="start" letter-spacing="1.05">23</text>
<text x="726.7" y="499" font-family="'Liberation Sans', sans-serif" font-size="11" font-weight="normal" fill="#000" text-anchor="start" letter-spacing="1.05">30</text>
<text x="746.7" y="499" font-family="'Liberation Sans', sans-serif" font-size="11" font-weight="normal" fill="#000" text-anchor="start" letter-spacing="1.05">Янв 13</text>
<text x="253.2" y="179" font-family="'DejaVu Serif', serif" font-size="15.5" font-weight="normal" fill="#ff0000" text-anchor="start" stroke="#ff0000" stroke-width="0.3">A</text>
<text x="397.6" y="285" font-family="'DejaVu Serif', serif" font-size="15.2" font-weight="normal" fill="#ff0000" text-anchor="start" stroke="#ff0000" stroke-width="0.3">B</text>
<text x="505.4" y="69" font-family="'DejaVu Serif', serif" font-size="15.2" font-weight="normal" fill="#ff0000" text-anchor="start" stroke="#ff0000" stroke-width="0.3">C</text>
<text x="646.2" y="217" font-family="'DejaVu Serif', serif" fill="#ff0000" stroke="#ff0000" stroke-width="0.3" font-size="11.4" textLength="9.4" lengthAdjust="spacingAndGlyphs">1</text>
<text x="658.0" y="217" font-family="'DejaVu Serif', serif" fill="#ff0000" stroke="#ff0000" stroke-width="0.3" font-size="15" letter-spacing="2.1">(a)</text>
<text x="693.25" y="92" font-family="'DejaVu Serif', serif" fill="#ff0000" stroke="#ff0000" stroke-width="0.3" font-size="11.4" textLength="9.4" lengthAdjust="spacingAndGlyphs">2</text>
<text x="707.05" y="92" font-family="'DejaVu Serif', serif" fill="#ff0000" stroke="#ff0000" stroke-width="0.3" font-size="15" letter-spacing="2.1">(b)</text>
<text x="745.1" y="290" font-family="'DejaVu Serif', serif" fill="#ff0000" stroke="#ff0000" stroke-width="0.3" font-size="16">3</text>
<text x="759.1" y="287" font-family="'DejaVu Serif', serif" fill="#ff0000" stroke="#ff0000" stroke-width="0.3" font-size="15" letter-spacing="2.1">(c)</text>
<text x="10" y="522" font-family="'DejaVu Sans', sans-serif" font-size="12" fill="#e6e6e6" letter-spacing="0.93">Элитный Трейдер, ELITETRADER.RU</text>
<defs>
<linearGradient id="ga" x1="0" y1="0" x2="0" y2="1"><stop offset="0" stop-color="#b6e84a"/><stop offset="1" stop-color="#2f8a12"/></linearGradient>
<linearGradient id="gb" x1="0" y1="0" x2="0" y2="1"><stop offset="0" stop-color="#ffd23a"/><stop offset="1" stop-color="#e2461a"/></linearGradient>
<linearGradient id="gc" x1="0" y1="0" x2="1" y2="1"><stop offset="0.1" stop-color="#7cc022"/><stop offset="0.4" stop-color="#c8d028"/><stop offset="0.6" stop-color="#ffb81e"/><stop offset="0.85" stop-color="#f8701e"/><stop offset="1" stop-color="#f04a5a"/></linearGradient>
</defs>
<path d="M846 508l8 8.5h-4v8h-6.5v-8H840z" fill="url(#ga)" stroke="#2a7a10" stroke-width="0.6"/>
<rect x="837" y="520" width="8.5" height="4.5" fill="url(#gb)"/>
<text x="857.4" y="523.2" font-family="'Liberation Sans', sans-serif" font-weight="bold" font-size="17" fill="#fff" textLength="24.8" lengthAdjust="spacingAndGlyphs">clip</text>
<text x="895.3" y="523.2" font-family="'Liberation Sans', sans-serif" font-weight="bold" font-size="17" fill="#fff" textLength="21.1" lengthAdjust="spacingAndGlyphs">net</text>
<text x="917.9" y="523.2" font-family="'Liberation Sans', sans-serif" font-weight="bold" font-size="17" fill="#8e9a98" textLength="33.2" lengthAdjust="spacingAndGlyphs">.com</text>
<circle cx="888" cy="518" r="7.6" fill="url(#gc)"/>
<text x="888" y="524" font-family="'Liberation Sans', sans-serif" font-weight="bold" font-size="16" fill="#fff" text-anchor="middle">2</text>
</svg>
</body></html>
